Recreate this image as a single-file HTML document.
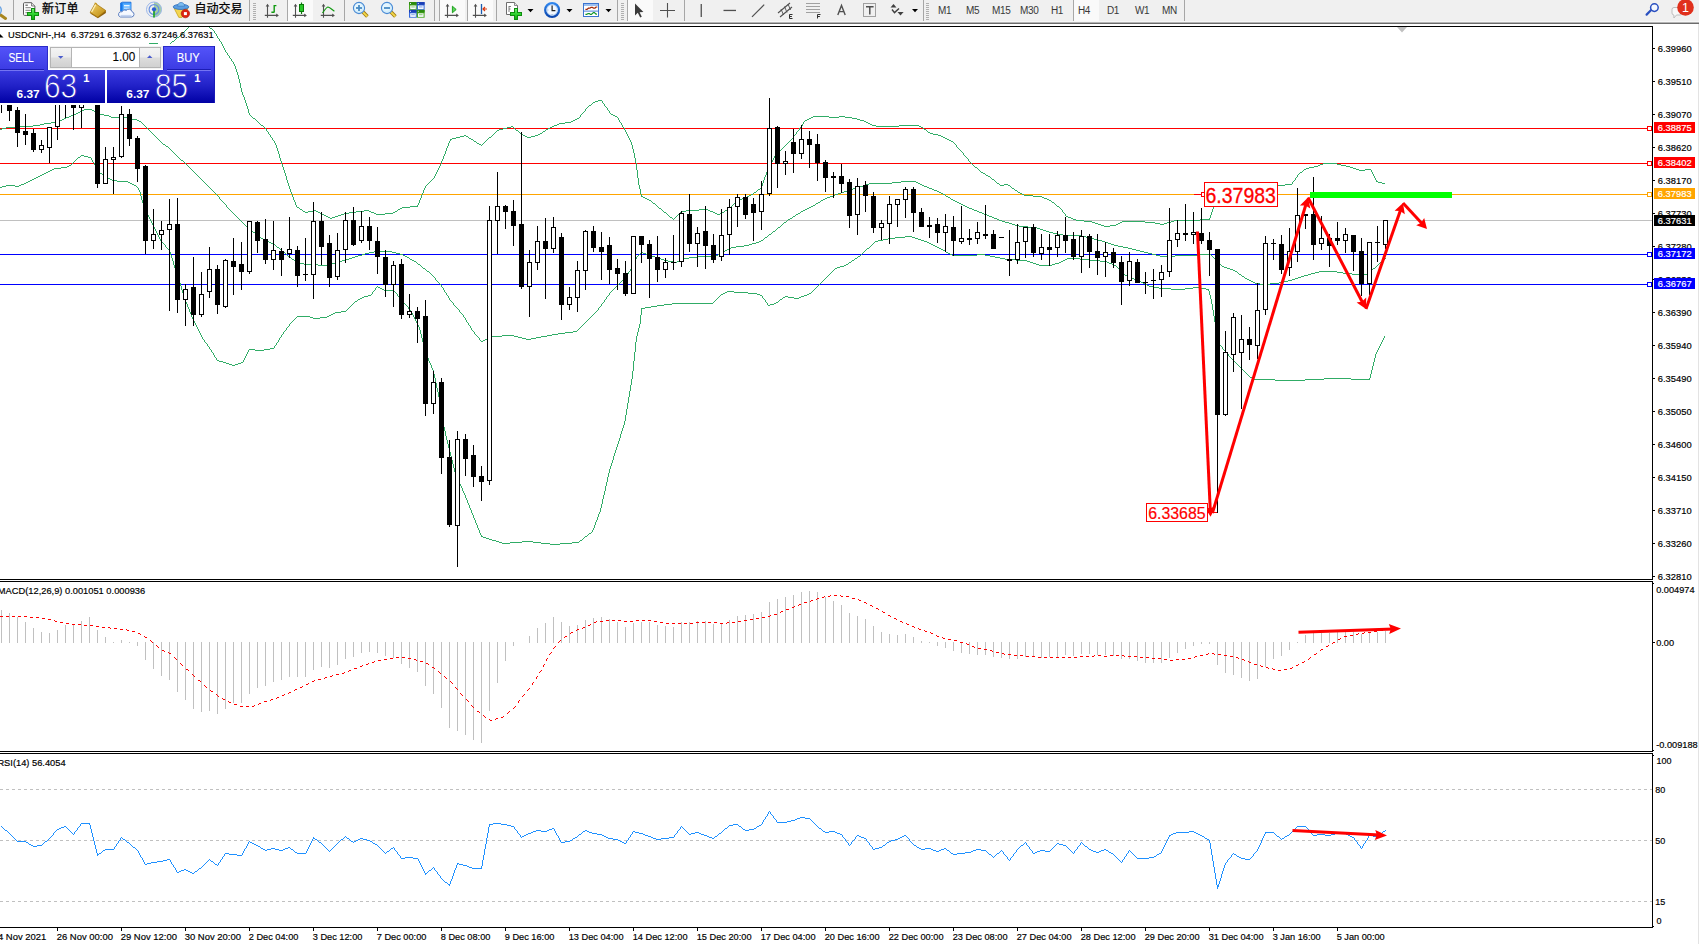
<!DOCTYPE html>
<html><head><meta charset="utf-8"><title>USDCNH-,H4</title>
<style>
html,body{margin:0;padding:0;background:#fff;}
body{width:1699px;height:944px;overflow:hidden;position:relative;font-family:"Liberation Sans","Noto Sans CJK SC",sans-serif;}
#tb{position:absolute;left:0;top:0;width:1699px;height:24px;background:#f0f0f0;}
#tb .l1{position:absolute;left:0;top:21px;width:100%;height:1px;background:#f7f7f7}
#tb .l2{position:absolute;left:0;top:22px;width:100%;height:1px;background:#b4b4b4}
#tb .l3{position:absolute;left:0;top:23px;width:100%;height:1px;background:#6c6c6c}
#tb .t{position:absolute;top:2px;font-size:12px;line-height:14px;color:#000;white-space:nowrap;-webkit-text-stroke:0.25px #000}
#tb .p{position:absolute;top:4.5px;font-size:10px;line-height:12px;color:#383838;white-space:nowrap;letter-spacing:-0.35px}
</style></head>
<body>
<div id="tb"><div class="l1"></div><div class="l2"></div><div class="l3"></div>
<svg width="1699" height="24" viewBox="0 0 1699 24" style="position:absolute;left:0;top:0">
<defs><linearGradient id="gGold" x1="0" y1="0" x2="1" y2="1"><stop offset="0" stop-color="#f6d46a"/><stop offset="1" stop-color="#b8860b"/></linearGradient><linearGradient id="gBlue" x1="0" y1="0" x2="0" y2="1"><stop offset="0" stop-color="#8ec4f0"/><stop offset="1" stop-color="#2a6cc8"/></linearGradient><linearGradient id="gGreen" x1="0" y1="0" x2="0" y2="1"><stop offset="0" stop-color="#7af07a"/><stop offset="0.5" stop-color="#2ed22e"/><stop offset="1" stop-color="#12a812"/></linearGradient><radialGradient id="gLens" cx="0.4" cy="0.35" r="0.7"><stop offset="0" stop-color="#ffffff"/><stop offset="1" stop-color="#a8d4f4"/></radialGradient><linearGradient id="gRing" x1="0" y1="0" x2="0" y2="1"><stop offset="0" stop-color="#2f86ee"/><stop offset="1" stop-color="#0a46ae"/></linearGradient></defs>
<line x1="-1" y1="14" x2="5.5" y2="18.5" stroke="#a8861e" stroke-width="3" stroke-linecap="round"/>
<circle cx="-3.6" cy="10.3" r="5" fill="url(#gLens)" stroke="#6aa2e2" stroke-width="1.2"/>
<rect x="13" y="0" width="1" height="20" fill="#a6a6a6"/>
<path d="M24.5,2.7 H31.6 L34.9,6 V14.4 Q34.9,15.4 33.9,15.4 H24.5 Q23.5,15.4 23.5,14.4 V3.7 Q23.5,2.7 24.5,2.7 Z" fill="#fff" stroke="#5a5a5a" stroke-width="1"/>
<path d="M31.6,2.7 V6 H34.9" fill="#e8e8e8" stroke="#5a5a5a" stroke-width="0.8"/>
<rect x="25.4" y="4.6" width="2.4" height="1.2" fill="#606060"/><rect x="25.4" y="7.2" width="5.4" height="1" fill="#808080"/><rect x="25.4" y="9.8" width="5.4" height="1" fill="#808080"/><rect x="25.4" y="12.2" width="3" height="1" fill="#808080"/>
<path d="M31.5,8.5 h3 v4 h4 v3 h-4 v4 h-3 v-4 h-4 v-3 h4 z" fill="url(#gGreen)" stroke="#0e8e0e" stroke-width="1" shape-rendering="crispEdges"/>
<path d="M90.2,12.4 L90.6,13.8 L97.9,18.2 L105.9,13 L105.8,10.6 Z" fill="#8e600c"/>
<path d="M95.2,3.4 L105.8,10.6 L97.7,17.2 L90.2,12.4 Z" fill="url(#gGold)" stroke="#a8780e" stroke-width="0.8"/>
<path d="M95.6,4.6 L91.6,12" stroke="#fff4c0" stroke-width="1.3" fill="none" opacity="0.9"/>
<path d="M94.6,3.2 Q96.4,2.6 97,4.4" stroke="#c8960e" stroke-width="1" fill="none"/>
<path d="M120.6,3 L122.4,2.2 H131 V11 H120.6 Z" fill="#2a8cf4" stroke="#1a6cd8" stroke-width="0.8"/>
<rect x="122.6" y="3.4" width="8.2" height="7.6" fill="#5ab0ff"/>
<rect x="124" y="5" width="5.6" height="1.4" fill="#e8f6ff"/><rect x="124" y="7.6" width="5.6" height="1.2" fill="#cfe8ff"/>
<rect x="120.8" y="3.4" width="1.6" height="7.6" fill="#1478ea"/>
<path d="M120.4,17 h11.2 a2.7,2.7 0 0 0 0.4,-5.3 a3.3,3.3 0 0 0 -5.8,-1.3 a2.7,2.7 0 0 0 -4.1,1.4 a2.7,2.7 0 0 0 -1.7,5.2 z" fill="#f6f9ff" stroke="#5e80c0" stroke-width="1"/>
<path d="M120.6,15.6 h10.8" stroke="#c4d4f0" stroke-width="1.4" fill="none"/>
<path d="M154,9.5 L154,1.9 A7.6,7.6 0 0 1 154,17.1 Z" fill="#3aa23a" opacity="0.42"/>
<g fill="none"><circle cx="154" cy="9.5" r="7.5" stroke="#9ab6ea" stroke-width="1"/><circle cx="154" cy="9.5" r="4.9" stroke="#6a92e0" stroke-width="1.2"/><path d="M154,9.5 V17.4" stroke="#22a422" stroke-width="1.7"/></g><circle cx="154" cy="9.3" r="2.1" fill="#2a5cd4"/>
<path d="M174.2,8.4 L188,8.4 L182,17.4 L178.8,17.4 Z" fill="#f4d650" stroke="#c8a21e" stroke-width="0.8"/>
<ellipse cx="181" cy="6.9" rx="7.8" ry="2.6" fill="#5a9ee2" stroke="#2e6cb8" stroke-width="0.8"/>
<path d="M177.6,6.2 C177.8,1.2 184.4,1.2 184.6,6.2 Z" fill="#7cbcf0" stroke="#3a78c0" stroke-width="0.7"/>
<circle cx="185.4" cy="13.6" r="4.2" fill="#dc2410" stroke="#a81408" stroke-width="0.6"/>
<rect x="183.9" y="12.1" width="3" height="3" fill="#fff"/>
<rect x="249" y="0" width="1" height="21" fill="#a6a6a6"/>
<rect x="253" y="3" width="3" height="1" fill="#b0b0b0"/>
<rect x="253" y="5" width="3" height="1" fill="#b0b0b0"/>
<rect x="253" y="7" width="3" height="1" fill="#b0b0b0"/>
<rect x="253" y="9" width="3" height="1" fill="#b0b0b0"/>
<rect x="253" y="11" width="3" height="1" fill="#b0b0b0"/>
<rect x="253" y="13" width="3" height="1" fill="#b0b0b0"/>
<rect x="253" y="15" width="3" height="1" fill="#b0b0b0"/>
<rect x="253" y="17" width="3" height="1" fill="#b0b0b0"/>
<rect x="253" y="19" width="3" height="1" fill="#b0b0b0"/>
<g stroke="#505050" stroke-width="1.1" fill="none"><path d="M267.5,5 V17.7 M264.8,15.4 H277.6"/></g><polygon points="267.5,3.8 265.7,6.6 269.3,6.6" fill="#505050"/><polygon points="278.9,15.4 276.2,13.6 276.2,17.2" fill="#505050"/>
<path d="M274.2,5 V12.6 M274.2,5.6 H276.4 M271.4,12.2 H274.2" stroke="#109a10" stroke-width="1.4" fill="none"/>
<rect x="287" y="0" width="26" height="21" fill="#fafafa"/>
<rect x="287" y="0" width="1" height="21" fill="#a8a8a8"/>
<g stroke="#505050" stroke-width="1.1" fill="none"><path d="M295.5,5 V17.7 M292.8,15.4 H305.6"/></g><polygon points="295.5,3.8 293.7,6.6 297.3,6.6" fill="#505050"/><polygon points="306.9,15.4 304.2,13.6 304.2,17.2" fill="#505050"/>
<path d="M301.5,2.5 V14" stroke="#0a7a0a" stroke-width="1.2"/><rect x="299.5" y="4.5" width="4" height="7" fill="#28c828" stroke="#0a7a0a" stroke-width="1"/>
<g stroke="#505050" stroke-width="1.1" fill="none"><path d="M323.5,5 V17.7 M320.8,15.4 H333.6"/></g><polygon points="323.5,3.8 321.7,6.6 325.3,6.6" fill="#505050"/><polygon points="334.9,15.4 332.2,13.6 332.2,17.2" fill="#505050"/>
<path d="M322.5,13 C325,9.4 326.6,7 328,7 C330,7.4 332,9.6 334.4,11.2" stroke="#109a10" stroke-width="1.2" fill="none"/>
<rect x="344" y="0" width="1" height="21" fill="#a6a6a6"/>
<line x1="362.8" y1="11.8" x2="367.4" y2="16.6" stroke="#a07c14" stroke-width="3.6" stroke-linecap="butt"/>
<line x1="362.8" y1="11.8" x2="367.2" y2="16.4" stroke="#f4d84a" stroke-width="1.9" stroke-linecap="butt"/>
<circle cx="359" cy="8" r="5.6" fill="#d4eefc" stroke="#4a8ad4" stroke-width="1.1"/>
<circle cx="358.4" cy="7.2" r="3.6" fill="#e8f7ff" opacity="0.8"/>
<rect x="356" y="7.1" width="6" height="1.8" fill="#4a8cc4"/>
<rect x="358.1" y="5" width="1.8" height="6" fill="#4a8cc4"/>
<line x1="390.8" y1="11.8" x2="395.4" y2="16.6" stroke="#a07c14" stroke-width="3.6" stroke-linecap="butt"/>
<line x1="390.8" y1="11.8" x2="395.2" y2="16.4" stroke="#f4d84a" stroke-width="1.9" stroke-linecap="butt"/>
<circle cx="387" cy="8" r="5.6" fill="#d4eefc" stroke="#4a8ad4" stroke-width="1.1"/>
<circle cx="386.4" cy="7.2" r="3.6" fill="#e8f7ff" opacity="0.8"/>
<rect x="384" y="7.1" width="6" height="1.8" fill="#4a8cc4"/>
<rect x="409" y="2.1" width="7.8" height="7.8" fill="#4aa822"/>
<rect x="409" y="2.1" width="7.8" height="2.6" fill="#2a8a0c"/>
<rect x="410" y="3.0" width="1" height="1" fill="#dfe8ff"/>
<rect x="410.2" y="5.5" width="5.6" height="3.6" fill="#f8fbff"/>
<rect x="411.2" y="6.5" width="3.6" height="0.9" fill="#4aa822" opacity="0.7"/>
<rect x="416.8" y="2.1" width="7.8" height="7.8" fill="#3468dc"/>
<rect x="416.8" y="2.1" width="7.8" height="2.6" fill="#1a3eb4"/>
<rect x="417.8" y="3.0" width="1" height="1" fill="#dfe8ff"/>
<rect x="418.0" y="5.5" width="5.6" height="3.6" fill="#f8fbff"/>
<rect x="419.0" y="6.5" width="3.6" height="0.9" fill="#3468dc" opacity="0.7"/>
<rect x="409" y="9.9" width="7.8" height="7.8" fill="#3468dc"/>
<rect x="409" y="9.9" width="7.8" height="2.6" fill="#1a3eb4"/>
<rect x="410" y="10.8" width="1" height="1" fill="#dfe8ff"/>
<rect x="410.2" y="13.3" width="5.6" height="3.6" fill="#f8fbff"/>
<rect x="411.2" y="14.3" width="3.6" height="0.9" fill="#3468dc" opacity="0.7"/>
<rect x="416.8" y="9.9" width="7.8" height="7.8" fill="#4aa822"/>
<rect x="416.8" y="9.9" width="7.8" height="2.6" fill="#2a8a0c"/>
<rect x="417.8" y="10.8" width="1" height="1" fill="#dfe8ff"/>
<rect x="418.0" y="13.3" width="5.6" height="3.6" fill="#f8fbff"/>
<rect x="419.0" y="14.3" width="3.6" height="0.9" fill="#4aa822" opacity="0.7"/>
<rect x="434" y="0" width="1" height="21" fill="#a6a6a6"/>
<rect x="439" y="0" width="26" height="21" fill="#fafafa"/>
<rect x="439" y="0" width="1" height="21" fill="#a8a8a8"/>
<g stroke="#505050" stroke-width="1.1" fill="none"><path d="M447.5,5 V17.7 M444.8,15.4 H457.6"/></g><polygon points="447.5,3.8 445.7,6.6 449.3,6.6" fill="#505050"/><polygon points="458.9,15.4 456.2,13.6 456.2,17.2" fill="#505050"/>
<polygon points="452.4,6.2 452.4,12.8 456.2,9.5" fill="#5cd45c" stroke="#129a12" stroke-width="0.9"/>
<rect x="467" y="0" width="26" height="21" fill="#fafafa"/>
<rect x="467" y="0" width="1" height="21" fill="#a8a8a8"/>
<g stroke="#505050" stroke-width="1.1" fill="none"><path d="M475.5,5 V17.7 M472.8,15.4 H485.6"/></g><polygon points="475.5,3.8 473.7,6.6 477.3,6.6" fill="#505050"/><polygon points="486.9,15.4 484.2,13.6 484.2,17.2" fill="#505050"/>
<path d="M481.5,4 V14" stroke="#1a5cb0" stroke-width="1.3"/><path d="M487,9 H483 M485,7 L483,9 L485,11" stroke="#d83810" stroke-width="1.2" fill="none"/>
<rect x="496" y="0" width="1" height="21" fill="#a6a6a6"/>
<path d="M506.5,2.5 H514.5 L517.5,5.5 V14.5 H506.5 Z" fill="#fff" stroke="#6e6e6e" stroke-width="1"/>
<path d="M514.5,2.5 V5.5 H517.5" fill="#e8e8e8" stroke="#6e6e6e" stroke-width="0.8"/>
<path d="M509,6 V12 M509,6.5 H511 M509,9 H510.5" stroke="#707070" stroke-width="0.9" fill="none"/>
<path d="M514.5,8.5 h3 v4 h4 v3 h-4 v4 h-3 v-4 h-4 v-3 h4 z" fill="url(#gGreen)" stroke="#0e8e0e" stroke-width="1" shape-rendering="crispEdges"/>
<polygon points="527.5,9 533.5,9 530.5,12.2" fill="#000"/>
<circle cx="552.1" cy="10" r="6.9" fill="#f2f8ff" stroke="url(#gRing)" stroke-width="2.3"/>
<circle cx="552.1" cy="10" r="5.2" fill="none" stroke="#a8c8f0" stroke-width="0.7"/>
<path d="M552.1,5.4 V10.6 H555.4" stroke="#202020" stroke-width="1.2" fill="none"/>
<path d="M552.1,14.2 v0.8 M547.6,10 h0.8" stroke="#7090c0" stroke-width="0.8"/>
<polygon points="566.5,9 572.5,9 569.5,12.2" fill="#000"/>
<rect x="583.5" y="3.5" width="15" height="13" fill="#fff" stroke="#3a74d0" stroke-width="1"/>
<rect x="584" y="4" width="14" height="2" fill="#9cc0f0"/>
<rect x="584" y="10.6" width="14" height="1" fill="#4a80d8"/>
<path d="M585.4,9.4 H587 L588.4,8.2 H590 L591,7.4 H592.4 L593.6,8.2 H595 L596,7 H597.4" stroke="#a02808" stroke-width="1.2" fill="none"/>
<path d="M585.4,14.4 H586.8 L588,13.6 H589.4 L590.4,14.4 H591.4 L593.4,12.6 H594.4 L596,14.2 H597" stroke="#14962a" stroke-width="1.2" fill="none"/>
<polygon points="605.5,9 611.5,9 608.5,12.2" fill="#000"/>
<rect x="617" y="0" width="1" height="21" fill="#a6a6a6"/>
<rect x="621" y="3" width="3" height="1" fill="#b0b0b0"/>
<rect x="621" y="5" width="3" height="1" fill="#b0b0b0"/>
<rect x="621" y="7" width="3" height="1" fill="#b0b0b0"/>
<rect x="621" y="9" width="3" height="1" fill="#b0b0b0"/>
<rect x="621" y="11" width="3" height="1" fill="#b0b0b0"/>
<rect x="621" y="13" width="3" height="1" fill="#b0b0b0"/>
<rect x="621" y="15" width="3" height="1" fill="#b0b0b0"/>
<rect x="621" y="17" width="3" height="1" fill="#b0b0b0"/>
<rect x="621" y="19" width="3" height="1" fill="#b0b0b0"/>
<rect x="627" y="0" width="26" height="21" fill="#fafafa"/>
<rect x="627" y="0" width="1" height="21" fill="#a8a8a8"/>
<path d="M635,3.5 V15.5 L637.8,12.8 L640.2,17.6 L641.8,16.8 L639.6,12.2 L643.4,12 Z" fill="#3c3c3c"/>
<path d="M667.5,3 V17.5 M660,10.5 H675" stroke="#505050" stroke-width="1.1" fill="none"/>
<rect x="684" y="0" width="1" height="21" fill="#a6a6a6"/>
<rect x="700.6" y="4" width="1.3" height="13" fill="#505050"/>
<rect x="723.5" y="9.8" width="12.5" height="1.3" fill="#505050"/>
<path d="M752,16.8 L764.2,4.6" stroke="#505050" stroke-width="1.2"/>
<path d="M778,13 L790,3 M780,17 L792,7" stroke="#505050" stroke-width="1.1" fill="none"/>
<path d="M781,9 L783.5,15 M784.5,6.5 L787,12.5 M788,4 L790.5,10" stroke="#505050" stroke-width="0.9" fill="none"/>
<path d="M789.5,14.5 h3 m-3,0 v4 h3 m-3,-2 h2.4" stroke="#303030" stroke-width="1" fill="none"/>
<line x1="806.5" y1="3.5" x2="820" y2="3.5" stroke="#505050" stroke-width="1" stroke-dasharray="1,1"/>
<line x1="806.5" y1="6.5" x2="820" y2="6.5" stroke="#505050" stroke-width="1" stroke-dasharray="1,1"/>
<line x1="806.5" y1="9.5" x2="820" y2="9.5" stroke="#505050" stroke-width="1" stroke-dasharray="1,1"/>
<line x1="806.5" y1="12.5" x2="820" y2="12.5" stroke="#505050" stroke-width="1" stroke-dasharray="1,1"/>
<path d="M817.5,18.5 v-4 h3 m-3,2 h2.4" stroke="#303030" stroke-width="1" fill="none"/>
<path d="M837.8,15 L841.5,5.5 L845.2,15 M839.3,11.6 H843.7" stroke="#505050" stroke-width="1.4" fill="none"/>
<rect x="863.5" y="3.5" width="12" height="13" fill="none" stroke="#505050" stroke-width="1" stroke-dasharray="1,1"/>
<path d="M866,6.8 H873.6 M869.8,6.8 V14.5" stroke="#505050" stroke-width="1.5" fill="none"/>
<polygon points="893.5,4 896.5,7.5 890.5,7.5" fill="#404040"/>
<polygon points="900.5,15.5 903.6,12 897.5,12" fill="#404040"/>
<path d="M892,9.5 L894.5,12.6 L899,8.4" stroke="#404040" stroke-width="1.4" fill="none"/>
<polygon points="896.5,11 899.5,14.5 902.5,11" fill="#404040" opacity="0"/>
<polygon points="912,9 918,9 915,12.2" fill="#000"/>
<rect x="923" y="0" width="1" height="21" fill="#a6a6a6"/>
<rect x="926" y="3" width="3" height="1" fill="#b0b0b0"/>
<rect x="926" y="5" width="3" height="1" fill="#b0b0b0"/>
<rect x="926" y="7" width="3" height="1" fill="#b0b0b0"/>
<rect x="926" y="9" width="3" height="1" fill="#b0b0b0"/>
<rect x="926" y="11" width="3" height="1" fill="#b0b0b0"/>
<rect x="926" y="13" width="3" height="1" fill="#b0b0b0"/>
<rect x="926" y="15" width="3" height="1" fill="#b0b0b0"/>
<rect x="926" y="17" width="3" height="1" fill="#b0b0b0"/>
<rect x="926" y="19" width="3" height="1" fill="#b0b0b0"/>
<rect x="1073" y="0" width="26" height="21" fill="#fafafa"/>
<rect x="1073" y="0" width="1" height="21" fill="#a8a8a8"/>
<rect x="1184" y="0" width="1" height="21" fill="#a6a6a6"/>
<line x1="1646.6" y1="14.6" x2="1651.4" y2="9.8" stroke="#2a50c0" stroke-width="2.2" stroke-linecap="round"/>
<circle cx="1654.4" cy="7.6" r="3.8" fill="#f4f8ff" stroke="#2a50c0" stroke-width="1.5"/>
<path d="M1672,9.5 a2,2 0 0 1 2,-2 h6 a2,2 0 0 1 2,2 v3.5 a2,2 0 0 1 -2,2 h-3.5 l-2.6,3 v-3 a2,2 0 0 1 -1.9,-2 z" fill="#f8f8f8" stroke="#b8b8b8" stroke-width="0.9"/>
<circle cx="1685.5" cy="7.4" r="8.3" fill="#e0301c"/>
<text x="1685.5" y="12" text-anchor="middle" font-family="Liberation Sans, sans-serif" font-size="12.5" fill="#fff">1</text>
</svg>
<span class="t" style="left:42px;letter-spacing:0.2px">新订单</span>
<span class="t" style="left:194.5px">自动交易</span>
<span class="p" style="left:938px">M1</span><span class="p" style="left:966px">M5</span><span class="p" style="left:992px">M15</span><span class="p" style="left:1020px">M30</span><span class="p" style="left:1051px">H1</span><span class="p" style="left:1078px">H4</span><span class="p" style="left:1107px">D1</span><span class="p" style="left:1135px">W1</span><span class="p" style="left:1162px">MN</span>
</div>
<svg id="chart" width="1699" height="944" viewBox="0 0 1699 944" shape-rendering="crispEdges" style="position:absolute;left:0;top:0">
<defs><clipPath id="cm"><rect x="0" y="27" width="1652" height="552"/></clipPath></defs>
<rect x="0" y="26" width="1653" height="1" fill="#000"/>
<rect x="1652" y="26" width="1" height="902" fill="#000"/>
<rect x="0" y="579" width="1653" height="1" fill="#000"/>
<rect x="0" y="581" width="1653" height="1" fill="#000"/>
<rect x="0" y="751" width="1653" height="1" fill="#000"/>
<rect x="0" y="753" width="1653" height="1" fill="#000"/>
<rect x="0" y="927" width="1653" height="1" fill="#000"/>
<rect x="1652" y="580" width="1" height="1" fill="#fff"/>
<rect x="1652" y="752" width="1" height="1" fill="#fff"/>
<rect x="1698" y="24" width="1" height="920" fill="#e3e3e3"/>
<polygon points="1397,27 1407,27 1402,32.5" fill="#c0c0c0" shape-rendering="auto"/>
<rect x="0" y="220" width="1652" height="1" fill="#c0c0c0"/>
<rect x="0" y="128" width="1648" height="1" fill="#ff0000"/>
<rect x="0" y="163" width="1648" height="1" fill="#ff0000"/>
<rect x="0" y="194" width="1648" height="1" fill="#ffa500"/>
<rect x="0" y="254" width="1648" height="1" fill="#0000ff"/>
<rect x="0" y="284" width="1648" height="1" fill="#0000ff"/>
<g clip-path="url(#cm)">
<path d="M149 43.5h9" fill="none" stroke="#30ac66" stroke-width="1"/>
<path d="M1371.5 170v2M424.5 188v2M234.5 64v2M762.5 183v3M774.5 156v2M237.5 72v3M435.5 174v2M770.5 164v2M240.5 83v5M1297.5 175v2M283.5 167v3M443.5 156v3M626.5 132v2M629.5 138v2M639.5 185v4M423.5 190v3M633.5 149v4M585.5 109v2M580.5 115v2M1213.5 206v3M769.5 166v2M618.5 118v2M963.5 153v2M607.5 108v2M622.5 125v2M246.5 103v3M450.5 139v2M275.5 143v2M421.5 195v3M635.5 158v5M1211.5 212v3M1216.5 197v3M449.5 141v2M295.5 202v3M241.5 88v4M1210.5 215v3M281.5 161v3M609.5 111v2M284.5 170v3M245.5 100v3M799.5 128v2M1215.5 200v3M634.5 153v5M802.5 124v2M444.5 154v2M637.5 170v8M793.5 136v2M294.5 200v2M280.5 158v3M766.5 172v3M219.5 39v2M222.5 44v2M630.5 140v2M418.5 203v2M442.5 159v2M765.5 175v2M286.5 176v4M289.5 186v3M276.5 145v3M446.5 148v3M417.5 205v2M636.5 163v7M221.5 42v2M224.5 48v2M425.5 186v2M764.5 177v3M763.5 180v3M628.5 136v2M803.5 122v2M242.5 92v3M285.5 173v3M231.5 59v2M238.5 75v4M602.5 101v2M640.5 189v5M1373.5 174v2M619.5 120v2M233.5 62v2M439.5 166v2M1212.5 209v3M438.5 168v2M773.5 158v2M296.5 205v2M239.5 79v4M434.5 176v2M621.5 123v2M1292.5 182v2M641.5 194v3M772.5 160v2M768.5 168v2M445.5 151v3M1295.5 178v2M638.5 178v7M248.5 109v4M291.5 192v2M1214.5 203v3M420.5 198v2M277.5 148v3M968.5 159v2M1065.5 214v2M223.5 46v2M266.5 129v2M419.5 200v3M243.5 95v2M247.5 106v3M236.5 69v3M290.5 189v3M225.5 50v2M268.5 132v2M217.5 36v2M282.5 164v3M1372.5 172v2M235.5 66v3M631.5 142v3M270.5 135v2M1374.5 176v2M604.5 104v2M1209.5 218v2M272.5 138v2M279.5 154v4M625.5 130v2M796.5 132v2M632.5 145v4M422.5 193v2M288.5 183v3M292.5 194v3M278.5 151v3M767.5 170v2M227.5 53v2M448.5 143v3M244.5 97v3M287.5 180v3M447.5 146v2M229.5 56v2M761.5 186v2M293.5 197v3M214.5 31v2M1376.5 180v2M441.5 161v3M249.5 113v2M274.5 141v2M216.5 34v2M627.5 134v2M624.5 128v2M1062.5 210v2M440.5 164v2M1217.5 195v2M956.5 145v2M437.5 170v2M1375.5 178v2M436.5 172v2M771.5 162v2M433 178.5h1M991 178.5h1M258 122.5h1M565 122.5h6M620 122.5h1M866 122.5h2M269 134.5h1M493 134.5h1M521 134.5h2M538 134.5h2M795 134.5h1M933 134.5h5M230 58.5h1M974 166.5h1M1314 166.5h4M1346 166.5h4M1076 220.5h8M1174 220.5h26M170 43.5h1M1095 223.5h3M1118 223.5h2M1155 223.5h5M1164 223.5h3M649 200.5h2M738 200.5h2M1049 200.5h2M426 185.5h1M1000 185.5h4M1008 185.5h2M1273 185.5h12M260 124.5h1M557 124.5h2M870 124.5h2M303 211.5h2M308 211.5h5M316 211.5h2M356 211.5h8M369 211.5h2M395 211.5h2M663 211.5h1M681 211.5h5M710 211.5h3M724 211.5h1M252 117.5h1M579 117.5h1M617 117.5h1M811 117.5h2M829 117.5h10M845 117.5h7M273 140.5h1M473 140.5h1M486 140.5h1M790 140.5h1M949 140.5h2M300 209.5h2M398 209.5h2M661 209.5h1M699 209.5h9M727 209.5h1M1061 209.5h1M271 137.5h1M456 137.5h4M468 137.5h1M489 137.5h2M527 137.5h4M943 137.5h2M494 133.5h1M520 133.5h1M540 133.5h2M930 133.5h3M1101 225.5h3M1110 225.5h6M971 163.5h1M1323 163.5h14M251 116.5h1M615 116.5h2M813 116.5h16M839 116.5h6M263 126.5h1M511 126.5h2M552 126.5h2M801 126.5h1M876 126.5h23M919 126.5h2M181 34.5h1M479 144.5h2M482 144.5h1M786 144.5h1M955 144.5h1M1084 221.5h8M1122 221.5h23M1171 221.5h3M986 175.5h2M756 191.5h1M1017 191.5h1M1224 191.5h2M452 138.5h4M469 138.5h2M488 138.5h1M792 138.5h1M945 138.5h2M1092 222.5h3M1120 222.5h2M1145 222.5h10M1167 222.5h4M430 181.5h1M995 181.5h1M1293 181.5h1M1377 181.5h1M324 215.5h2M338 215.5h3M668 215.5h1M677 215.5h1M760 188.5h1M1012 188.5h2M1242 188.5h10M758 189.5h2M1014 189.5h1M1232 189.5h10M749 195.5h2M1024 195.5h9M978 169.5h1M1304 169.5h2M1356 169.5h3M1365 169.5h6M497 130.5h2M516 130.5h2M545 130.5h1M798 130.5h1M926 130.5h1M320 213.5h2M344 213.5h5M374 213.5h2M385 213.5h8M666 213.5h1M679 213.5h1M715 213.5h2M720 213.5h2M1064 213.5h1M302 210.5h1M313 210.5h3M364 210.5h5M397 210.5h1M662 210.5h1M686 210.5h13M708 210.5h2M725 210.5h2M477 143.5h2M483 143.5h1M787 143.5h1M954 143.5h1M460 136.5h4M466 136.5h2M491 136.5h1M525 136.5h2M531 136.5h4M941 136.5h2M305 212.5h3M318 212.5h2M349 212.5h7M371 212.5h3M393 212.5h2M664 212.5h2M680 212.5h1M713 212.5h2M722 212.5h2M1063 212.5h1M259 123.5h1M559 123.5h6M868 123.5h2M297 207.5h2M402 207.5h8M658 207.5h1M729 207.5h2M1059 207.5h1M584 111.5h1M751 194.5h2M1022 194.5h2M1218 194.5h2M642 196.5h1M747 196.5h2M1033 196.5h9M499 129.5h4M515 129.5h1M546 129.5h2M924 129.5h2M977 168.5h1M1306 168.5h3M1353 168.5h3M326 216.5h2M335 216.5h3M669 216.5h1M676 216.5h1M1066 216.5h2M322 214.5h2M341 214.5h3M376 214.5h9M667 214.5h1M678 214.5h1M717 214.5h3M979 170.5h1M1303 170.5h1M1359 170.5h6M983 173.5h2M1299 173.5h1M656 205.5h1M732 205.5h1M1056 205.5h1M410 206.5h7M657 206.5h1M731 206.5h1M1057 206.5h2M474 141.5h2M485 141.5h1M789 141.5h1M951 141.5h2M174 40.5h1M257 121.5h1M571 121.5h2M804 121.5h1M864 121.5h2M261 125.5h2M554 125.5h3M872 125.5h4M899 125.5h20M647 199.5h2M740 199.5h2M1047 199.5h2M754 192.5h2M1018 192.5h2M1222 192.5h2M431 180.5h1M994 180.5h1M1294 180.5h1M428 183.5h1M997 183.5h2M1382 183.5h3M427 184.5h1M999 184.5h1M1004 184.5h4M1285 184.5h7M586 108.5h1M980 171.5h1M1302 171.5h1M264 127.5h1M507 127.5h4M513 127.5h1M550 127.5h2M623 127.5h1M800 127.5h1M921 127.5h2M581 114.5h1M611 114.5h2M593 102.5h2M451 139.5h1M471 139.5h2M487 139.5h1M791 139.5h1M947 139.5h2M265 128.5h1M503 128.5h4M514 128.5h1M548 128.5h2M923 128.5h1M464 135.5h2M492 135.5h1M523 135.5h2M535 135.5h3M794 135.5h1M938 135.5h3M781 149.5h1M959 149.5h1M780 150.5h1M960 150.5h1M1011 187.5h1M1252 187.5h11M1104 226.5h6M495 132.5h1M519 132.5h1M542 132.5h1M928 132.5h2M753 193.5h1M1020 193.5h2M1220 193.5h2M171 42.5h1M267 131.5h1M496 131.5h1M518 131.5h1M543 131.5h2M797 131.5h1M927 131.5h1M973 165.5h1M1318 165.5h2M1341 165.5h5M476 142.5h1M484 142.5h1M788 142.5h1M953 142.5h1M778 152.5h1M962 152.5h1M328 217.5h2M332 217.5h3M670 217.5h2M675 217.5h1M1068 217.5h3M186 29.5h1M212 29.5h1M598 100.5h4M177 37.5h2M645 198.5h2M742 198.5h3M1044 198.5h3M299 208.5h1M400 208.5h2M659 208.5h2M728 208.5h1M1060 208.5h1M184 31.5h1M972 164.5h1M1320 164.5h3M1337 164.5h4M1010 186.5h1M1263 186.5h10M253 118.5h2M577 118.5h2M809 118.5h2M852 118.5h5M775 155.5h1M964 155.5h1M592 103.5h1M603 103.5h1M643 197.5h2M745 197.5h2M1042 197.5h2M330 218.5h2M672 218.5h1M674 218.5h1M1071 218.5h2M232 61.5h1M975 167.5h2M1309 167.5h5M1350 167.5h3M256 120.5h1M573 120.5h2M805 120.5h2M860 120.5h4M429 182.5h1M996 182.5h1M1378 182.5h4M187 28.5h1M210 28.5h2M779 151.5h1M961 151.5h1M966 157.5h1M651 201.5h1M736 201.5h2M1051 201.5h1M652 202.5h1M735 202.5h1M1052 202.5h2M783 147.5h1M957 147.5h1M782 148.5h1M958 148.5h1M255 119.5h1M575 119.5h2M807 119.5h2M857 119.5h3M185 30.5h1M213 30.5h1M589 105.5h2M1098 224.5h3M1116 224.5h2M1160 224.5h4M757 190.5h1M1015 190.5h2M1226 190.5h6M182 33.5h1M215 33.5h1M673 219.5h1M1073 219.5h3M1200 219.5h9M481 145.5h1M785 145.5h1M988 176.5h2M595 101.5h3M653 203.5h2M734 203.5h1M1054 203.5h1M175 39.5h1M188 27.5h1M209 27.5h1M655 204.5h1M733 204.5h1M1055 204.5h1M582 113.5h1M610 113.5h1M981 172.5h2M1300 172.5h2M777 153.5h1M784 146.5h1M990 177.5h1M1296 177.5h1M183 32.5h1M587 107.5h1M606 107.5h1M591 104.5h1M965 156.5h1M176 38.5h1M218 38.5h1M967 158.5h1M776 154.5h1M226 52.5h1M985 174.5h1M1298 174.5h1M588 106.5h1M605 106.5h1M583 112.5h1M179 36.5h1M969 161.5h1M250 115.5h1M613 115.5h2M172 41.5h2M220 41.5h1M432 179.5h1M992 179.5h2M608 110.5h1M180 35.5h1M970 162.5h1M228 55.5h1" fill="none" stroke="#30ac66" stroke-width="1"/>
<path d="M630.5 269v2M471.5 328v2M441.5 285v2M470.5 326v2M474.5 332v2M623.5 278v2M443.5 288v2M604.5 300v2M463.5 315v2M466.5 320v2M468.5 323v2M633.5 263v2M446.5 293v2M449.5 298v2M609.5 293v2M444.5 290v2M448.5 296v2M435.5 278v2M479.5 338v2M632.5 265v2M628.5 272v2M219.5 197v2M465.5 318v2M226.5 205v2M598.5 308v2M601.5 304v2M453.5 303v2M636.5 257v2M635.5 259v2M631.5 267v2M634.5 261v2M606.5 297v2M459.5 310v2M588 319.5h1M166 146.5h2M439 283.5h1M619 283.5h1M1255 283.5h5M1270 283.5h9M230 210.5h1M803 210.5h2M974 210.5h3M273 244.5h2M749 244.5h3M1111 244.5h3M811 206.5h2M965 206.5h2M247 227.5h1M778 227.5h2M1028 227.5h9M204 182.5h1M892 182.5h9M916 182.5h2M283 252.5h2M369 252.5h5M392 252.5h4M641 252.5h2M722 252.5h1M1144 252.5h4M227 207.5h1M809 207.5h2M967 207.5h2M224 203.5h1M816 203.5h2M959 203.5h2M440 284.5h1M618 284.5h1M1260 284.5h10M220 199.5h1M823 199.5h2M951 199.5h2M205 183.5h1M869 183.5h23M918 183.5h2M66 117.5h3M111 117.5h17M295 261.5h1M338 261.5h4M414 261.5h2M668 261.5h5M677 261.5h2M1217 261.5h1M1382 261.5h1M257 235.5h2M768 235.5h1M1063 235.5h19M245 225.5h1M781 225.5h1M1015 225.5h4M436 280.5h1M622 280.5h1M1249 280.5h2M1288 280.5h4M427 271.5h2M629 271.5h1M1235 271.5h2M1319 271.5h18M1370 271.5h1M74 114.5h2M100 114.5h4M445 292.5h1M610 292.5h1M460 312.5h1M595 312.5h1M80 111.5h2M94 111.5h2M279 248.5h1M729 248.5h2M1128 248.5h4M487 338.5h3M522 338.5h4M531 338.5h5M20 126.5h13M145 126.5h1M78 112.5h2M96 112.5h2M421 266.5h1M1222 266.5h2M1376 266.5h1M290 257.5h1M352 257.5h3M407 257.5h2M655 257.5h3M689 257.5h8M1213 257.5h1M207 185.5h1M863 185.5h3M922 185.5h2M231 211.5h1M801 211.5h2M977 211.5h2M475 334.5h1M552 334.5h6M206 184.5h1M866 184.5h3M920 184.5h2M825 198.5h2M950 198.5h1M44 123.5h7M142 123.5h1M294 260.5h1M342 260.5h3M412 260.5h2M664 260.5h4M679 260.5h3M1216 260.5h1M1383 260.5h1M282 251.5h1M374 251.5h18M723 251.5h2M1140 251.5h4M221 200.5h1M821 200.5h2M953 200.5h2M243 223.5h1M783 223.5h1M1009 223.5h3M218 196.5h1M830 196.5h3M946 196.5h2M275 245.5h1M744 245.5h5M1114 245.5h4M477 336.5h1M492 336.5h10M514 336.5h4M541 336.5h6M287 255.5h1M358 255.5h4M403 255.5h2M638 255.5h1M649 255.5h3M716 255.5h2M1156 255.5h4M1175 255.5h24M1211 255.5h1M318 265.5h10M420 265.5h1M1221 265.5h1M1377 265.5h1M478 337.5h1M490 337.5h2M518 337.5h4M536 337.5h5M256 234.5h1M769 234.5h2M1058 234.5h5M288 256.5h2M355 256.5h3M405 256.5h2M637 256.5h1M652 256.5h3M697 256.5h19M1160 256.5h15M1212 256.5h1M240 220.5h1M787 220.5h1M999 220.5h3M59 120.5h3M137 120.5h2M472 330.5h1M577 330.5h1M558 333.5h7M269 242.5h2M756 242.5h3M1105 242.5h3M51 122.5h6M141 122.5h1M169 148.5h1M57 121.5h2M139 121.5h2M296 262.5h2M335 262.5h3M416 262.5h1M673 262.5h4M1218 262.5h1M1380 262.5h2M213 191.5h1M844 191.5h3M937 191.5h2M210 188.5h1M853 188.5h3M929 188.5h3M2 128.5h4M147 128.5h1M246 226.5h1M780 226.5h1M1019 226.5h9M473 331.5h1M573 331.5h4M84 109.5h8M431 274.5h1M627 274.5h1M1239 274.5h2M1308 274.5h3M1352 274.5h15M485 339.5h2M526 339.5h5M304 264.5h14M328 264.5h3M418 264.5h2M1220 264.5h1M1378 264.5h1M175 154.5h1M6 127.5h14M146 127.5h1M291 258.5h1M349 258.5h3M409 258.5h1M658 258.5h3M684 258.5h5M1214 258.5h1M1385 258.5h1M285 253.5h1M365 253.5h4M396 253.5h4M640 253.5h1M643 253.5h3M720 253.5h2M1148 253.5h4M163 144.5h2M176 155.5h1M251 230.5h1M775 230.5h1M1043 230.5h3M430 273.5h1M1238 273.5h1M1311 273.5h4M1343 273.5h9M1367 273.5h1M260 237.5h1M765 237.5h2M1086 237.5h4M234 214.5h1M796 214.5h2M984 214.5h3M223 202.5h1M818 202.5h2M957 202.5h2M423 268.5h2M1227 268.5h3M1373 268.5h2M236 216.5h1M793 216.5h2M989 216.5h3M82 110.5h2M92 110.5h2M255 233.5h1M771 233.5h1M1053 233.5h5M181 160.5h2M265 240.5h2M761 240.5h2M1098 240.5h4M476 335.5h1M502 335.5h12M547 335.5h5M183 161.5h1M215 193.5h1M838 193.5h3M941 193.5h2M237 217.5h1M792 217.5h1M992 217.5h2M216 194.5h1M835 194.5h3M943 194.5h2M253 232.5h2M772 232.5h1M1049 232.5h4M580 327.5h1M235 215.5h1M795 215.5h1M987 215.5h2M238 218.5h1M790 218.5h2M994 218.5h3M69 116.5h2M109 116.5h2M217 195.5h1M833 195.5h2M945 195.5h1M277 247.5h2M731 247.5h5M1123 247.5h5M611 291.5h1M239 219.5h1M788 219.5h2M997 219.5h2M587 320.5h1M177 156.5h1M203 181.5h1M901 181.5h15M286 254.5h1M362 254.5h3M400 254.5h3M639 254.5h1M646 254.5h3M718 254.5h2M1152 254.5h4M1199 254.5h12M298 263.5h6M331 263.5h4M417 263.5h1M1219 263.5h1M1379 263.5h1M178 157.5h1M214 192.5h1M841 192.5h3M939 192.5h2M456 307.5h1M599 307.5h1M447 295.5h1M608 295.5h1M461 313.5h1M594 313.5h1M426 270.5h1M1233 270.5h2M1371 270.5h1M458 309.5h1M292 259.5h2M345 259.5h4M410 259.5h2M661 259.5h3M682 259.5h2M1215 259.5h1M1384 259.5h1M250 229.5h1M776 229.5h1M1040 229.5h3M437 281.5h1M621 281.5h1M1251 281.5h2M1283 281.5h5M565 332.5h8M76 113.5h2M98 113.5h2M241 221.5h1M786 221.5h1M1002 221.5h3M276 246.5h1M736 246.5h8M1118 246.5h5M191 169.5h1M271 243.5h2M752 243.5h4M1108 243.5h3M62 119.5h2M131 119.5h6M429 272.5h1M1237 272.5h1M1315 272.5h4M1337 272.5h6M1368 272.5h2M827 197.5h3M948 197.5h2M433 276.5h1M625 276.5h1M1242 276.5h2M1301 276.5h3M1245 278.5h2M1295 278.5h3M71 115.5h3M104 115.5h5M1247 279.5h2M1292 279.5h3M242 222.5h1M784 222.5h2M1005 222.5h4M462 314.5h1M593 314.5h1M252 231.5h1M773 231.5h2M1046 231.5h3M211 189.5h1M850 189.5h3M932 189.5h2M248 228.5h2M777 228.5h1M1037 228.5h3M261 238.5h2M764 238.5h1M1090 238.5h4M212 190.5h1M847 190.5h3M934 190.5h3M40 124.5h4M143 124.5h1M480 340.5h1M483 340.5h2M33 125.5h7M144 125.5h1M174 153.5h1M228 208.5h1M807 208.5h2M969 208.5h3M263 239.5h2M763 239.5h1M1094 239.5h4M222 201.5h1M820 201.5h1M955 201.5h2M464 317.5h1M590 317.5h1M813 205.5h2M963 205.5h2M187 165.5h1M188 166.5h1M280 249.5h1M727 249.5h2M1132 249.5h4M434 277.5h1M624 277.5h1M1244 277.5h1M1298 277.5h3M153 134.5h1M467 322.5h1M585 322.5h1M267 241.5h2M759 241.5h2M1102 241.5h3M455 306.5h1M600 306.5h1M616 286.5h1M425 269.5h1M1230 269.5h3M1372 269.5h1M592 315.5h1M233 213.5h1M798 213.5h2M982 213.5h2M64 118.5h2M128 118.5h3M189 167.5h1M281 250.5h1M725 250.5h2M1136 250.5h4M190 168.5h1M244 224.5h1M782 224.5h1M1012 224.5h3M0 129.5h2M148 129.5h1M422 267.5h1M1224 267.5h3M1375 267.5h1M208 186.5h1M860 186.5h3M924 186.5h3M196 174.5h1M225 204.5h1M815 204.5h1M961 204.5h2M579 328.5h1M605 299.5h1M232 212.5h1M800 212.5h1M979 212.5h3M198 176.5h1M586 321.5h1M209 187.5h1M856 187.5h4M927 187.5h2M149 130.5h1M150 131.5h1M584 323.5h1M259 236.5h1M767 236.5h1M1082 236.5h4M432 275.5h1M626 275.5h1M1241 275.5h1M1304 275.5h4M442 287.5h1M615 287.5h1M185 163.5h1M481 341.5h2M186 164.5h1M438 282.5h1M620 282.5h1M1253 282.5h2M1279 282.5h4M151 132.5h1M192 170.5h1M152 133.5h1M229 209.5h1M805 209.5h2M972 209.5h2M158 139.5h1M617 285.5h1M578 329.5h1M614 288.5h1M194 172.5h1M165 145.5h1M195 173.5h1M597 310.5h1M452 302.5h1M603 302.5h1M160 141.5h1M201 179.5h1M197 175.5h1M450 300.5h1M451 301.5h1M591 316.5h1M154 135.5h1M155 136.5h1M602 303.5h1M613 289.5h1M589 318.5h1M596 311.5h1M156 137.5h1M157 138.5h1M168 147.5h1M193 171.5h1M454 305.5h1M469 325.5h1M582 325.5h1M199 177.5h1M200 178.5h1M583 324.5h1M457 308.5h1M202 180.5h1M159 140.5h1M170 149.5h1M171 150.5h1M161 142.5h1M172 151.5h1M184 162.5h1M162 143.5h1M173 152.5h1M179 158.5h1M180 159.5h1M581 326.5h1M612 290.5h1M607 296.5h1" fill="none" stroke="#30ac66" stroke-width="1"/>
<path d="M1211.5 299v5M196.5 325v2M636.5 336v6M181.5 286v4M592.5 530v2M423.5 342v4M631.5 379v6M635.5 342v10M1214.5 316v6M214.5 355v2M625.5 415v6M640.5 315v9M433.5 370v4M443.5 421v6M142.5 200v3M613.5 456v4M419.5 327v3M422.5 338v4M286.5 328v2M1372.5 366v4M281.5 335v2M1213.5 310v6M1379.5 346v2M464.5 493v2M626.5 409v6M449.5 448v4M397.5 294v2M187.5 304v3M1375.5 354v4M170.5 252v3M629.5 391v6M474.5 518v2M173.5 261v4M1219.5 342v3M1210.5 295v4M194.5 321v2M445.5 431v5M611.5 463v3M436.5 383v5M481.5 535v2M603.5 495v4M216.5 358v2M431.5 365v3M1216.5 328v5M616.5 447v3M432.5 368v2M452.5 460v4M418.5 325v2M638.5 328v4M455.5 472v3M141.5 196v4M95.5 165v2M628.5 397v6M610.5 466v3M96.5 167v2M147.5 212v3M179.5 280v3M99.5 171v2M1212.5 304v6M462.5 488v3M641.5 308v7M182.5 290v3M1370.5 374v4M155.5 229v2M448.5 444v4M158.5 235v2M451.5 456v4M469.5 505v3M186.5 302v2M475.5 520v3M1374.5 358v4M1218.5 337v5M1209.5 291v4M479.5 530v3M633.5 361v10M1222.5 347v2M627.5 403v6M444.5 427v4M1382.5 340v2M204.5 340v2M632.5 371v8M619.5 438v3M1369.5 378v2M601.5 504v4M276.5 343v2M441.5 409v6M175.5 268v3M178.5 277v3M1381.5 342v2M467.5 500v3M618.5 441v3M156.5 231v2M617.5 444v3M1377.5 350v2M248.5 350v2M408.5 307v2M412.5 313v2M1217.5 333v4M375.5 288v2M202.5 337v2M762.5 296v2M184.5 296v3M634.5 352v9M639.5 324v4M188.5 307v2M595.5 522v3M446.5 436v4M439.5 397v6M428.5 358v3M615.5 450v3M414.5 317v2M411.5 311v2M442.5 415v6M594.5 525v3M183.5 293v3M607.5 477v5M189.5 309v3M169.5 250v2M476.5 523v2M193.5 319v2M637.5 332v4M427.5 355v3M139.5 190v2M245.5 356v2M420.5 330v4M457.5 477v2M149.5 217v2M1380.5 344v2M471.5 510v3M274.5 346v2M605.5 486v5M195.5 323v2M621.5 431v3M1371.5 370v4M630.5 385v6M138.5 188v2M180.5 283v3M463.5 491v2M624.5 421v4M92.5 160v2M421.5 334v4M1215.5 322v6M1373.5 362v4M598.5 514v3M447.5 440v4M602.5 499v5M279.5 338v2M157.5 233v2M430.5 363v2M413.5 315v2M244.5 358v2M416.5 321v2M434.5 374v4M597.5 517v3M609.5 469v4M440.5 403v6M450.5 452v4M1376.5 352v2M191.5 314v3M171.5 255v3M243.5 360v2M174.5 265v3M198.5 329v2M429.5 361v2M600.5 508v4M144.5 205v3M459.5 482v2M456.5 475v2M620.5 434v4M148.5 215v2M151.5 221v2M209.5 347v2M466.5 498v2M470.5 508v2M197.5 327v2M424.5 346v3M454.5 468v4M623.5 425v3M458.5 479v3M150.5 219v2M207.5 344v2M465.5 495v3M160.5 239v2M622.5 428v3M453.5 464v4M1384.5 336v2M1228.5 354v2M213.5 353v2M608.5 473v4M159.5 237v2M289.5 324v2M435.5 378v5M415.5 319v2M612.5 460v3M1383.5 338v2M172.5 258v3M190.5 312v2M176.5 271v3M438.5 392v5M1378.5 348v2M606.5 482v4M417.5 323v2M91.5 158v2M94.5 163v2M146.5 210v2M372.5 292v2M143.5 203v2M461.5 486v2M153.5 225v2M468.5 503v2M185.5 299v3M472.5 513v2M614.5 453v3M478.5 528v2M596.5 520v2M199.5 331v2M437.5 388v4M426.5 352v3M604.5 491v4M460.5 484v2M177.5 274v3M765.5 300v2M152.5 223v2M247.5 352v2M278.5 340v2M473.5 515v3M477.5 525v3M201.5 335v2M425.5 349v3M165.5 245v2M403.5 301v2M246.5 354v2M140.5 192v4M767.5 303v2M211.5 350v2M593.5 528v2M192.5 317v2M283.5 332v2M145.5 208v2M599.5 512v2M480.5 533v2M154.5 227v2M1208.5 289v2M200.5 333v2M30 180.5h2M112 180.5h5M1254 379.5h21M1305 379.5h19M1351 379.5h18M380 288.5h2M815 288.5h1M1159 288.5h12M1185 288.5h8M1200 288.5h6M210 349.5h1M249 349.5h6M264 349.5h6M1223 349.5h1M287 327.5h1M855 258.5h2M1000 258.5h5M1067 258.5h13M28 181.5h2M117 181.5h11M883 239.5h5M918 239.5h3M353 303.5h1M404 303.5h1M672 303.5h41M774 303.5h2M851 261.5h1M1027 261.5h3M1061 261.5h2M1100 261.5h7M852 260.5h2M1016 260.5h11M1063 260.5h2M1090 260.5h10M354 302.5h1M713 302.5h1M766 302.5h1M776 302.5h2M364 296.5h4M398 296.5h1M719 296.5h1M785 296.5h3M801 296.5h3M502 543.5h8M541 543.5h9M560 543.5h12M824 279.5h1M1134 279.5h2M382 289.5h2M814 289.5h1M1171 289.5h14M1206 289.5h2M40 175.5h2M104 175.5h1M846 264.5h2M1036 264.5h3M1052 264.5h3M1112 264.5h2M860 255.5h1M952 255.5h25M985 255.5h5M352 304.5h1M405 304.5h1M664 304.5h8M770 304.5h4M350 306.5h1M407 306.5h1M651 306.5h6M223 362.5h3M241 362.5h2M1235 362.5h1M819 284.5h1M1145 284.5h2M341 311.5h5M848 263.5h1M1033 263.5h3M1055 263.5h4M1109 263.5h3M52 169.5h2M97 169.5h1M219 361.5h4M1234 361.5h1M395 292.5h1M725 292.5h2M734 292.5h14M811 292.5h1M205 342.5h1M277 342.5h1M854 259.5h1M1005 259.5h11M1065 259.5h2M1080 259.5h10M331 314.5h2M69 165.5h2M837 267.5h3M1117 267.5h1M858 256.5h2M990 256.5h5M373 291.5h1M394 291.5h1M727 291.5h7M812 291.5h1M861 254.5h1M950 254.5h2M977 254.5h8M496 541.5h3M522 541.5h11M579 541.5h1M351 305.5h1M406 305.5h1M657 305.5h7M768 305.5h2M275 345.5h1M1220 345.5h1M296 317.5h1M310 317.5h3M320 317.5h7M32 179.5h2M110 179.5h2M1252 378.5h2M1324 378.5h27M368 295.5h3M720 295.5h1M760 295.5h2M804 295.5h3M297 316.5h13M327 316.5h2M212 352.5h1M1226 352.5h1M215 357.5h1M1230 357.5h1M895 237.5h10M912 237.5h3M840 266.5h4M1116 266.5h1M6 185.5h9M19 185.5h2M134 185.5h2M362 297.5h2M399 297.5h1M718 297.5h1M783 297.5h2M788 297.5h6M799 297.5h2M489 539.5h3M582 539.5h1M499 542.5h3M510 542.5h12M533 542.5h8M572 542.5h7M229 364.5h3M235 364.5h3M1237 364.5h1M48 171.5h2M164 244.5h1M872 244.5h1M931 244.5h2M360 298.5h2M400 298.5h1M717 298.5h1M763 298.5h1M782 298.5h1M794 298.5h5M357 300.5h1M402 300.5h1M715 300.5h1M779 300.5h1M167 248.5h1M867 248.5h2M939 248.5h2M1275 380.5h30M820 283.5h1M1143 283.5h2M1243 370.5h1M849 262.5h2M1030 262.5h3M1059 262.5h2M1107 262.5h2M1244 371.5h1M823 280.5h1M1136 280.5h3M217 360.5h2M1233 360.5h1M21 184.5h3M132 184.5h2M589 533.5h2M36 177.5h2M107 177.5h1M291 322.5h1M844 265.5h2M1039 265.5h13M1114 265.5h2M376 287.5h1M378 287.5h2M816 287.5h1M1153 287.5h6M1193 287.5h7M34 178.5h2M108 178.5h2M355 301.5h2M714 301.5h1M778 301.5h1M486 538.5h3M583 538.5h1M822 281.5h1M1139 281.5h2M349 307.5h1M645 307.5h6M1250 377.5h2M335 312.5h6M374 290.5h1M384 290.5h10M813 290.5h1M888 238.5h7M915 238.5h3M862 253.5h1M948 253.5h2M878 240.5h5M921 240.5h3M54 168.5h7M255 350.5h9M1224 350.5h1M226 363.5h3M238 363.5h3M1236 363.5h1M1246 373.5h1M38 176.5h2M105 176.5h2M206 343.5h1M865 250.5h1M943 250.5h2M2 186.5h4M15 186.5h4M136 186.5h1M163 243.5h1M873 243.5h1M929 243.5h2M295 318.5h1M313 318.5h7M821 282.5h1M1141 282.5h2M905 236.5h7M396 293.5h1M723 293.5h2M748 293.5h9M809 293.5h2M818 285.5h1M1147 285.5h2M482 536.5h1M585 536.5h2M346 310.5h1M410 310.5h1M483 537.5h3M584 537.5h1M358 299.5h2M401 299.5h1M716 299.5h1M764 299.5h1M780 299.5h2M825 278.5h1M1131 278.5h3M871 245.5h1M933 245.5h2M831 272.5h1M1122 272.5h1M208 346.5h1M1221 346.5h1M550 544.5h10M832 271.5h1M1121 271.5h1M1240 367.5h1M44 173.5h2M100 173.5h2M829 274.5h1M1124 274.5h1M284 331.5h1M42 174.5h2M102 174.5h2M71 164.5h1M329 315.5h2M168 249.5h1M866 249.5h1M941 249.5h2M870 246.5h1M935 246.5h2M78 157.5h2M88 157.5h3M75 160.5h1M857 257.5h1M995 257.5h5M377 286.5h1M817 286.5h1M1149 286.5h4M1242 369.5h1M50 170.5h2M98 170.5h1M46 172.5h2M0 187.5h2M137 187.5h1M1249 376.5h1M371 294.5h1M721 294.5h2M757 294.5h3M807 294.5h2M591 532.5h1M292 321.5h1M161 241.5h1M875 241.5h3M924 241.5h3M232 365.5h3M1238 365.5h1M835 268.5h2M1118 268.5h1M826 277.5h1M1129 277.5h2M280 337.5h1M72 163.5h1M80 156.5h1M84 156.5h4M828 275.5h1M1125 275.5h2M1225 351.5h1M833 270.5h1M1120 270.5h1M24 183.5h2M130 183.5h2M864 251.5h1M945 251.5h1M166 247.5h1M869 247.5h1M937 247.5h2M863 252.5h1M946 252.5h2M492 540.5h4M580 540.5h2M81 155.5h3M830 273.5h1M1123 273.5h1M26 182.5h2M128 182.5h2M270 348.5h4M1247 374.5h1M1229 356.5h1M827 276.5h1M1127 276.5h2M1227 353.5h1M587 535.5h1M61 167.5h6M77 158.5h1M67 166.5h2M162 242.5h1M874 242.5h1M927 242.5h2M348 308.5h1M642 308.5h3M347 309.5h1M409 309.5h1M1231 358.5h1M1232 359.5h1M285 330.5h1M834 269.5h1M1119 269.5h1M288 326.5h1M76 159.5h1M73 162.5h1M93 162.5h1M333 313.5h2M588 534.5h1M290 323.5h1M294 319.5h1M203 339.5h1M1239 366.5h1M282 334.5h1M74 161.5h1M293 320.5h1M1245 372.5h1M1241 368.5h1M1248 375.5h1" fill="none" stroke="#30ac66" stroke-width="1"/>
<rect x="1" y="85" width="1" height="28" fill="#000"/>
<rect x="-1" y="85" width="5" height="10" fill="#000"/>
<rect x="9" y="85" width="1" height="36" fill="#000"/>
<rect x="7" y="85" width="5" height="26" fill="#000"/>
<rect x="17" y="107" width="1" height="40" fill="#000"/>
<rect x="15" y="110" width="5" height="23" fill="#000"/>
<rect x="25" y="114" width="1" height="31" fill="#000"/>
<rect x="23" y="131" width="5" height="4" fill="#000"/>
<rect x="33" y="129" width="1" height="23" fill="#000"/>
<rect x="31" y="133" width="5" height="17" fill="#000"/>
<rect x="41" y="140" width="1" height="13" fill="#000"/>
<rect x="39" y="145" width="5" height="5" fill="#000"/>
<rect x="40" y="146" width="3" height="3" fill="#fff"/>
<rect x="49" y="127" width="1" height="36" fill="#000"/>
<rect x="47" y="127" width="5" height="21" fill="#000"/>
<rect x="48" y="128" width="3" height="19" fill="#fff"/>
<rect x="57" y="80" width="1" height="60" fill="#000"/>
<rect x="55" y="82" width="5" height="45" fill="#000"/>
<rect x="56" y="83" width="3" height="43" fill="#fff"/>
<rect x="65" y="75" width="1" height="43" fill="#000"/>
<rect x="63" y="77" width="5" height="8" fill="#000"/>
<rect x="64" y="78" width="3" height="6" fill="#fff"/>
<rect x="73" y="75" width="1" height="55" fill="#000"/>
<rect x="71" y="80" width="5" height="28" fill="#000"/>
<rect x="81" y="75" width="1" height="53" fill="#000"/>
<rect x="79" y="80" width="5" height="28" fill="#000"/>
<rect x="80" y="81" width="3" height="26" fill="#fff"/>
<rect x="89" y="75" width="1" height="13" fill="#000"/>
<rect x="87" y="77" width="5" height="6" fill="#000"/>
<rect x="97" y="75" width="1" height="113" fill="#000"/>
<rect x="95" y="77" width="5" height="107" fill="#000"/>
<rect x="105" y="147" width="1" height="37" fill="#000"/>
<rect x="103" y="159" width="5" height="25" fill="#000"/>
<rect x="104" y="160" width="3" height="23" fill="#fff"/>
<rect x="113" y="147" width="1" height="47" fill="#000"/>
<rect x="111" y="157" width="5" height="3" fill="#000"/>
<rect x="112" y="158" width="3" height="1" fill="#fff"/>
<rect x="121" y="106" width="1" height="52" fill="#000"/>
<rect x="119" y="114" width="5" height="43" fill="#000"/>
<rect x="120" y="115" width="3" height="41" fill="#fff"/>
<rect x="129" y="109" width="1" height="37" fill="#000"/>
<rect x="127" y="114" width="5" height="25" fill="#000"/>
<rect x="137" y="136" width="1" height="46" fill="#000"/>
<rect x="135" y="138" width="5" height="31" fill="#000"/>
<rect x="145" y="165" width="1" height="89" fill="#000"/>
<rect x="143" y="166" width="5" height="75" fill="#000"/>
<rect x="153" y="209" width="1" height="40" fill="#000"/>
<rect x="151" y="234" width="5" height="7" fill="#000"/>
<rect x="152" y="235" width="3" height="5" fill="#fff"/>
<rect x="161" y="221" width="1" height="29" fill="#000"/>
<rect x="159" y="230" width="5" height="5" fill="#000"/>
<rect x="160" y="231" width="3" height="3" fill="#fff"/>
<rect x="169" y="199" width="1" height="112" fill="#000"/>
<rect x="167" y="224" width="5" height="6" fill="#000"/>
<rect x="168" y="225" width="3" height="4" fill="#fff"/>
<rect x="177" y="198" width="1" height="115" fill="#000"/>
<rect x="175" y="224" width="5" height="76" fill="#000"/>
<rect x="185" y="284" width="1" height="42" fill="#000"/>
<rect x="183" y="289" width="5" height="11" fill="#000"/>
<rect x="184" y="290" width="3" height="9" fill="#fff"/>
<rect x="193" y="257" width="1" height="69" fill="#000"/>
<rect x="191" y="287" width="5" height="28" fill="#000"/>
<rect x="201" y="272" width="1" height="45" fill="#000"/>
<rect x="199" y="294" width="5" height="21" fill="#000"/>
<rect x="200" y="295" width="3" height="19" fill="#fff"/>
<rect x="209" y="247" width="1" height="51" fill="#000"/>
<rect x="207" y="269" width="5" height="23" fill="#000"/>
<rect x="208" y="270" width="3" height="21" fill="#fff"/>
<rect x="217" y="265" width="1" height="49" fill="#000"/>
<rect x="215" y="269" width="5" height="36" fill="#000"/>
<rect x="225" y="259" width="1" height="49" fill="#000"/>
<rect x="223" y="260" width="5" height="47" fill="#000"/>
<rect x="224" y="261" width="3" height="45" fill="#fff"/>
<rect x="233" y="238" width="1" height="57" fill="#000"/>
<rect x="231" y="261" width="5" height="6" fill="#000"/>
<rect x="241" y="242" width="1" height="48" fill="#000"/>
<rect x="239" y="264" width="5" height="8" fill="#000"/>
<rect x="249" y="221" width="1" height="53" fill="#000"/>
<rect x="247" y="221" width="5" height="51" fill="#000"/>
<rect x="248" y="222" width="3" height="49" fill="#fff"/>
<rect x="257" y="221" width="1" height="32" fill="#000"/>
<rect x="255" y="222" width="5" height="19" fill="#000"/>
<rect x="265" y="219" width="1" height="45" fill="#000"/>
<rect x="263" y="239" width="5" height="21" fill="#000"/>
<rect x="273" y="221" width="1" height="49" fill="#000"/>
<rect x="271" y="250" width="5" height="10" fill="#000"/>
<rect x="272" y="251" width="3" height="8" fill="#fff"/>
<rect x="281" y="248" width="1" height="28" fill="#000"/>
<rect x="279" y="251" width="5" height="9" fill="#000"/>
<rect x="289" y="217" width="1" height="41" fill="#000"/>
<rect x="287" y="249" width="5" height="5" fill="#000"/>
<rect x="288" y="250" width="3" height="3" fill="#fff"/>
<rect x="297" y="246" width="1" height="41" fill="#000"/>
<rect x="295" y="250" width="5" height="26" fill="#000"/>
<rect x="305" y="238" width="1" height="43" fill="#000"/>
<rect x="303" y="274" width="5" height="1" fill="#000"/>
<rect x="313" y="202" width="1" height="97" fill="#000"/>
<rect x="311" y="221" width="5" height="54" fill="#000"/>
<rect x="312" y="222" width="3" height="52" fill="#fff"/>
<rect x="321" y="212" width="1" height="53" fill="#000"/>
<rect x="319" y="221" width="5" height="26" fill="#000"/>
<rect x="329" y="235" width="1" height="52" fill="#000"/>
<rect x="327" y="243" width="5" height="35" fill="#000"/>
<rect x="337" y="233" width="1" height="47" fill="#000"/>
<rect x="335" y="250" width="5" height="27" fill="#000"/>
<rect x="336" y="251" width="3" height="25" fill="#fff"/>
<rect x="345" y="212" width="1" height="51" fill="#000"/>
<rect x="343" y="220" width="5" height="30" fill="#000"/>
<rect x="344" y="221" width="3" height="28" fill="#fff"/>
<rect x="353" y="207" width="1" height="39" fill="#000"/>
<rect x="351" y="220" width="5" height="25" fill="#000"/>
<rect x="361" y="211" width="1" height="32" fill="#000"/>
<rect x="359" y="226" width="5" height="15" fill="#000"/>
<rect x="360" y="227" width="3" height="13" fill="#fff"/>
<rect x="369" y="217" width="1" height="33" fill="#000"/>
<rect x="367" y="226" width="5" height="15" fill="#000"/>
<rect x="377" y="227" width="1" height="47" fill="#000"/>
<rect x="375" y="241" width="5" height="16" fill="#000"/>
<rect x="385" y="250" width="1" height="47" fill="#000"/>
<rect x="383" y="257" width="5" height="28" fill="#000"/>
<rect x="393" y="261" width="1" height="46" fill="#000"/>
<rect x="391" y="265" width="5" height="20" fill="#000"/>
<rect x="392" y="266" width="3" height="18" fill="#fff"/>
<rect x="401" y="259" width="1" height="60" fill="#000"/>
<rect x="399" y="264" width="5" height="51" fill="#000"/>
<rect x="409" y="294" width="1" height="24" fill="#000"/>
<rect x="407" y="311" width="5" height="4" fill="#000"/>
<rect x="408" y="312" width="3" height="2" fill="#fff"/>
<rect x="417" y="307" width="1" height="36" fill="#000"/>
<rect x="415" y="311" width="5" height="8" fill="#000"/>
<rect x="425" y="300" width="1" height="116" fill="#000"/>
<rect x="423" y="316" width="5" height="88" fill="#000"/>
<rect x="433" y="371" width="1" height="43" fill="#000"/>
<rect x="431" y="382" width="5" height="22" fill="#000"/>
<rect x="432" y="383" width="3" height="20" fill="#fff"/>
<rect x="441" y="378" width="1" height="96" fill="#000"/>
<rect x="439" y="382" width="5" height="76" fill="#000"/>
<rect x="449" y="440" width="1" height="87" fill="#000"/>
<rect x="447" y="457" width="5" height="68" fill="#000"/>
<rect x="457" y="431" width="1" height="136" fill="#000"/>
<rect x="455" y="439" width="5" height="87" fill="#000"/>
<rect x="456" y="440" width="3" height="85" fill="#fff"/>
<rect x="465" y="434" width="1" height="42" fill="#000"/>
<rect x="463" y="439" width="5" height="20" fill="#000"/>
<rect x="473" y="445" width="1" height="42" fill="#000"/>
<rect x="471" y="455" width="5" height="22" fill="#000"/>
<rect x="481" y="466" width="1" height="35" fill="#000"/>
<rect x="479" y="476" width="5" height="6" fill="#000"/>
<rect x="489" y="206" width="1" height="279" fill="#000"/>
<rect x="487" y="220" width="5" height="261" fill="#000"/>
<rect x="488" y="221" width="3" height="259" fill="#fff"/>
<rect x="497" y="172" width="1" height="82" fill="#000"/>
<rect x="495" y="206" width="5" height="15" fill="#000"/>
<rect x="496" y="207" width="3" height="13" fill="#fff"/>
<rect x="505" y="205" width="1" height="24" fill="#000"/>
<rect x="503" y="206" width="5" height="6" fill="#000"/>
<rect x="513" y="200" width="1" height="46" fill="#000"/>
<rect x="511" y="211" width="5" height="15" fill="#000"/>
<rect x="521" y="132" width="1" height="157" fill="#000"/>
<rect x="519" y="224" width="5" height="63" fill="#000"/>
<rect x="529" y="250" width="1" height="67" fill="#000"/>
<rect x="527" y="262" width="5" height="25" fill="#000"/>
<rect x="528" y="263" width="3" height="23" fill="#fff"/>
<rect x="537" y="226" width="1" height="44" fill="#000"/>
<rect x="535" y="241" width="5" height="22" fill="#000"/>
<rect x="536" y="242" width="3" height="20" fill="#fff"/>
<rect x="545" y="218" width="1" height="81" fill="#000"/>
<rect x="543" y="241" width="5" height="8" fill="#000"/>
<rect x="553" y="217" width="1" height="36" fill="#000"/>
<rect x="551" y="227" width="5" height="22" fill="#000"/>
<rect x="552" y="228" width="3" height="20" fill="#fff"/>
<rect x="561" y="233" width="1" height="87" fill="#000"/>
<rect x="559" y="237" width="5" height="68" fill="#000"/>
<rect x="569" y="287" width="1" height="23" fill="#000"/>
<rect x="567" y="297" width="5" height="8" fill="#000"/>
<rect x="568" y="298" width="3" height="6" fill="#fff"/>
<rect x="577" y="261" width="1" height="51" fill="#000"/>
<rect x="575" y="270" width="5" height="28" fill="#000"/>
<rect x="576" y="271" width="3" height="26" fill="#fff"/>
<rect x="585" y="230" width="1" height="60" fill="#000"/>
<rect x="583" y="231" width="5" height="40" fill="#000"/>
<rect x="584" y="232" width="3" height="38" fill="#fff"/>
<rect x="593" y="226" width="1" height="26" fill="#000"/>
<rect x="591" y="231" width="5" height="17" fill="#000"/>
<rect x="601" y="232" width="1" height="48" fill="#000"/>
<rect x="599" y="247" width="5" height="5" fill="#000"/>
<rect x="609" y="237" width="1" height="47" fill="#000"/>
<rect x="607" y="245" width="5" height="25" fill="#000"/>
<rect x="617" y="259" width="1" height="31" fill="#000"/>
<rect x="615" y="268" width="5" height="6" fill="#000"/>
<rect x="625" y="261" width="1" height="35" fill="#000"/>
<rect x="623" y="273" width="5" height="21" fill="#000"/>
<rect x="633" y="236" width="1" height="58" fill="#000"/>
<rect x="631" y="236" width="5" height="58" fill="#000"/>
<rect x="632" y="237" width="3" height="56" fill="#fff"/>
<rect x="641" y="236" width="1" height="27" fill="#000"/>
<rect x="639" y="236" width="5" height="9" fill="#000"/>
<rect x="649" y="240" width="1" height="58" fill="#000"/>
<rect x="647" y="244" width="5" height="15" fill="#000"/>
<rect x="657" y="236" width="1" height="46" fill="#000"/>
<rect x="655" y="257" width="5" height="13" fill="#000"/>
<rect x="665" y="258" width="1" height="20" fill="#000"/>
<rect x="663" y="262" width="5" height="8" fill="#000"/>
<rect x="664" y="263" width="3" height="6" fill="#fff"/>
<rect x="673" y="235" width="1" height="35" fill="#000"/>
<rect x="671" y="262" width="5" height="1" fill="#000"/>
<rect x="681" y="211" width="1" height="56" fill="#000"/>
<rect x="679" y="213" width="5" height="49" fill="#000"/>
<rect x="680" y="214" width="3" height="47" fill="#fff"/>
<rect x="689" y="194" width="1" height="58" fill="#000"/>
<rect x="687" y="214" width="5" height="30" fill="#000"/>
<rect x="697" y="227" width="1" height="40" fill="#000"/>
<rect x="695" y="233" width="5" height="11" fill="#000"/>
<rect x="696" y="234" width="3" height="9" fill="#fff"/>
<rect x="705" y="206" width="1" height="63" fill="#000"/>
<rect x="703" y="231" width="5" height="15" fill="#000"/>
<rect x="713" y="234" width="1" height="29" fill="#000"/>
<rect x="711" y="245" width="5" height="15" fill="#000"/>
<rect x="721" y="209" width="1" height="52" fill="#000"/>
<rect x="719" y="235" width="5" height="22" fill="#000"/>
<rect x="720" y="236" width="3" height="20" fill="#fff"/>
<rect x="729" y="199" width="1" height="56" fill="#000"/>
<rect x="727" y="207" width="5" height="28" fill="#000"/>
<rect x="728" y="208" width="3" height="26" fill="#fff"/>
<rect x="737" y="194" width="1" height="33" fill="#000"/>
<rect x="735" y="197" width="5" height="10" fill="#000"/>
<rect x="736" y="198" width="3" height="8" fill="#fff"/>
<rect x="745" y="194" width="1" height="25" fill="#000"/>
<rect x="743" y="197" width="5" height="18" fill="#000"/>
<rect x="753" y="198" width="1" height="43" fill="#000"/>
<rect x="751" y="204" width="5" height="9" fill="#000"/>
<rect x="761" y="181" width="1" height="49" fill="#000"/>
<rect x="759" y="194" width="5" height="18" fill="#000"/>
<rect x="760" y="195" width="3" height="16" fill="#fff"/>
<rect x="769" y="98" width="1" height="98" fill="#000"/>
<rect x="767" y="128" width="5" height="66" fill="#000"/>
<rect x="768" y="129" width="3" height="64" fill="#fff"/>
<rect x="777" y="126" width="1" height="62" fill="#000"/>
<rect x="775" y="127" width="5" height="37" fill="#000"/>
<rect x="785" y="151" width="1" height="24" fill="#000"/>
<rect x="783" y="161" width="5" height="3" fill="#000"/>
<rect x="784" y="162" width="3" height="1" fill="#fff"/>
<rect x="793" y="129" width="1" height="44" fill="#000"/>
<rect x="791" y="142" width="5" height="12" fill="#000"/>
<rect x="801" y="125" width="1" height="34" fill="#000"/>
<rect x="799" y="139" width="5" height="15" fill="#000"/>
<rect x="800" y="140" width="3" height="13" fill="#fff"/>
<rect x="809" y="131" width="1" height="37" fill="#000"/>
<rect x="807" y="139" width="5" height="6" fill="#000"/>
<rect x="817" y="134" width="1" height="47" fill="#000"/>
<rect x="815" y="144" width="5" height="19" fill="#000"/>
<rect x="825" y="160" width="1" height="32" fill="#000"/>
<rect x="823" y="162" width="5" height="16" fill="#000"/>
<rect x="833" y="172" width="1" height="26" fill="#000"/>
<rect x="831" y="176" width="5" height="2" fill="#000"/>
<rect x="841" y="164" width="1" height="29" fill="#000"/>
<rect x="839" y="176" width="5" height="8" fill="#000"/>
<rect x="849" y="179" width="1" height="49" fill="#000"/>
<rect x="847" y="182" width="5" height="34" fill="#000"/>
<rect x="857" y="178" width="1" height="57" fill="#000"/>
<rect x="855" y="186" width="5" height="29" fill="#000"/>
<rect x="856" y="187" width="3" height="27" fill="#fff"/>
<rect x="865" y="181" width="1" height="31" fill="#000"/>
<rect x="863" y="185" width="5" height="11" fill="#000"/>
<rect x="873" y="192" width="1" height="41" fill="#000"/>
<rect x="871" y="196" width="5" height="32" fill="#000"/>
<rect x="881" y="220" width="1" height="20" fill="#000"/>
<rect x="879" y="223" width="5" height="5" fill="#000"/>
<rect x="880" y="224" width="3" height="3" fill="#fff"/>
<rect x="889" y="196" width="1" height="48" fill="#000"/>
<rect x="887" y="204" width="5" height="20" fill="#000"/>
<rect x="888" y="205" width="3" height="18" fill="#fff"/>
<rect x="897" y="199" width="1" height="28" fill="#000"/>
<rect x="895" y="199" width="5" height="6" fill="#000"/>
<rect x="896" y="200" width="3" height="4" fill="#fff"/>
<rect x="905" y="187" width="1" height="31" fill="#000"/>
<rect x="903" y="189" width="5" height="11" fill="#000"/>
<rect x="904" y="190" width="3" height="9" fill="#fff"/>
<rect x="913" y="187" width="1" height="45" fill="#000"/>
<rect x="911" y="189" width="5" height="24" fill="#000"/>
<rect x="921" y="208" width="1" height="19" fill="#000"/>
<rect x="919" y="212" width="5" height="15" fill="#000"/>
<rect x="929" y="217" width="1" height="21" fill="#000"/>
<rect x="927" y="225" width="5" height="2" fill="#000"/>
<rect x="937" y="218" width="1" height="25" fill="#000"/>
<rect x="935" y="224" width="5" height="9" fill="#000"/>
<rect x="945" y="214" width="1" height="38" fill="#000"/>
<rect x="943" y="226" width="5" height="7" fill="#000"/>
<rect x="944" y="227" width="3" height="5" fill="#fff"/>
<rect x="953" y="216" width="1" height="40" fill="#000"/>
<rect x="951" y="227" width="5" height="14" fill="#000"/>
<rect x="961" y="206" width="1" height="38" fill="#000"/>
<rect x="959" y="238" width="5" height="4" fill="#000"/>
<rect x="960" y="239" width="3" height="2" fill="#fff"/>
<rect x="969" y="229" width="1" height="16" fill="#000"/>
<rect x="967" y="238" width="5" height="2" fill="#000"/>
<rect x="977" y="222" width="1" height="22" fill="#000"/>
<rect x="975" y="232" width="5" height="7" fill="#000"/>
<rect x="976" y="233" width="3" height="5" fill="#fff"/>
<rect x="985" y="205" width="1" height="34" fill="#000"/>
<rect x="983" y="234" width="5" height="2" fill="#000"/>
<rect x="993" y="230" width="1" height="19" fill="#000"/>
<rect x="991" y="234" width="5" height="15" fill="#000"/>
<rect x="999" y="237" width="5" height="1" fill="#000"/>
<rect x="1009" y="230" width="1" height="46" fill="#000"/>
<rect x="1007" y="259" width="5" height="2" fill="#000"/>
<rect x="1017" y="224" width="1" height="40" fill="#000"/>
<rect x="1015" y="242" width="5" height="18" fill="#000"/>
<rect x="1016" y="243" width="3" height="16" fill="#fff"/>
<rect x="1025" y="227" width="1" height="31" fill="#000"/>
<rect x="1023" y="227" width="5" height="15" fill="#000"/>
<rect x="1024" y="228" width="3" height="13" fill="#fff"/>
<rect x="1033" y="224" width="1" height="33" fill="#000"/>
<rect x="1031" y="227" width="5" height="26" fill="#000"/>
<rect x="1041" y="234" width="1" height="26" fill="#000"/>
<rect x="1039" y="247" width="5" height="7" fill="#000"/>
<rect x="1040" y="248" width="3" height="5" fill="#fff"/>
<rect x="1049" y="234" width="1" height="32" fill="#000"/>
<rect x="1047" y="247" width="5" height="3" fill="#000"/>
<rect x="1057" y="231" width="1" height="26" fill="#000"/>
<rect x="1055" y="235" width="5" height="13" fill="#000"/>
<rect x="1056" y="236" width="3" height="11" fill="#fff"/>
<rect x="1065" y="217" width="1" height="36" fill="#000"/>
<rect x="1063" y="235" width="5" height="6" fill="#000"/>
<rect x="1073" y="232" width="1" height="28" fill="#000"/>
<rect x="1071" y="239" width="5" height="18" fill="#000"/>
<rect x="1081" y="230" width="1" height="43" fill="#000"/>
<rect x="1079" y="236" width="5" height="21" fill="#000"/>
<rect x="1080" y="237" width="3" height="19" fill="#fff"/>
<rect x="1089" y="234" width="1" height="34" fill="#000"/>
<rect x="1087" y="236" width="5" height="16" fill="#000"/>
<rect x="1097" y="234" width="1" height="41" fill="#000"/>
<rect x="1095" y="251" width="5" height="7" fill="#000"/>
<rect x="1105" y="242" width="1" height="35" fill="#000"/>
<rect x="1103" y="252" width="5" height="5" fill="#000"/>
<rect x="1104" y="253" width="3" height="3" fill="#fff"/>
<rect x="1113" y="248" width="1" height="20" fill="#000"/>
<rect x="1111" y="252" width="5" height="11" fill="#000"/>
<rect x="1121" y="256" width="1" height="49" fill="#000"/>
<rect x="1119" y="262" width="5" height="20" fill="#000"/>
<rect x="1129" y="252" width="1" height="34" fill="#000"/>
<rect x="1127" y="261" width="5" height="20" fill="#000"/>
<rect x="1128" y="262" width="3" height="18" fill="#fff"/>
<rect x="1137" y="259" width="1" height="24" fill="#000"/>
<rect x="1135" y="262" width="5" height="21" fill="#000"/>
<rect x="1145" y="272" width="1" height="22" fill="#000"/>
<rect x="1143" y="282" width="5" height="1" fill="#000"/>
<rect x="1153" y="269" width="1" height="30" fill="#000"/>
<rect x="1151" y="280" width="5" height="1" fill="#000"/>
<rect x="1161" y="265" width="1" height="32" fill="#000"/>
<rect x="1159" y="272" width="5" height="8" fill="#000"/>
<rect x="1160" y="273" width="3" height="6" fill="#fff"/>
<rect x="1169" y="208" width="1" height="69" fill="#000"/>
<rect x="1167" y="240" width="5" height="32" fill="#000"/>
<rect x="1168" y="241" width="3" height="30" fill="#fff"/>
<rect x="1177" y="220" width="1" height="27" fill="#000"/>
<rect x="1175" y="233" width="5" height="7" fill="#000"/>
<rect x="1176" y="234" width="3" height="5" fill="#fff"/>
<rect x="1185" y="204" width="1" height="37" fill="#000"/>
<rect x="1183" y="233" width="5" height="2" fill="#000"/>
<rect x="1193" y="212" width="1" height="32" fill="#000"/>
<rect x="1191" y="232" width="5" height="3" fill="#000"/>
<rect x="1192" y="233" width="3" height="1" fill="#fff"/>
<rect x="1201" y="208" width="1" height="36" fill="#000"/>
<rect x="1199" y="233" width="5" height="8" fill="#000"/>
<rect x="1209" y="232" width="1" height="44" fill="#000"/>
<rect x="1207" y="240" width="5" height="10" fill="#000"/>
<rect x="1217" y="249" width="1" height="264" fill="#000"/>
<rect x="1215" y="249" width="5" height="166" fill="#000"/>
<rect x="1225" y="331" width="1" height="85" fill="#000"/>
<rect x="1223" y="352" width="5" height="63" fill="#000"/>
<rect x="1224" y="353" width="3" height="61" fill="#fff"/>
<rect x="1233" y="313" width="1" height="59" fill="#000"/>
<rect x="1231" y="317" width="5" height="38" fill="#000"/>
<rect x="1232" y="318" width="3" height="36" fill="#fff"/>
<rect x="1241" y="315" width="1" height="94" fill="#000"/>
<rect x="1239" y="339" width="5" height="14" fill="#000"/>
<rect x="1240" y="340" width="3" height="12" fill="#fff"/>
<rect x="1249" y="327" width="1" height="33" fill="#000"/>
<rect x="1247" y="339" width="5" height="6" fill="#000"/>
<rect x="1257" y="283" width="1" height="76" fill="#000"/>
<rect x="1255" y="310" width="5" height="36" fill="#000"/>
<rect x="1256" y="311" width="3" height="34" fill="#fff"/>
<rect x="1265" y="236" width="1" height="79" fill="#000"/>
<rect x="1263" y="243" width="5" height="67" fill="#000"/>
<rect x="1264" y="244" width="3" height="65" fill="#fff"/>
<rect x="1273" y="239" width="1" height="21" fill="#000"/>
<rect x="1271" y="243" width="5" height="1" fill="#000"/>
<rect x="1281" y="235" width="1" height="39" fill="#000"/>
<rect x="1279" y="244" width="5" height="26" fill="#000"/>
<rect x="1289" y="228" width="1" height="48" fill="#000"/>
<rect x="1287" y="251" width="5" height="17" fill="#000"/>
<rect x="1288" y="252" width="3" height="15" fill="#fff"/>
<rect x="1297" y="188" width="1" height="74" fill="#000"/>
<rect x="1295" y="215" width="5" height="37" fill="#000"/>
<rect x="1296" y="216" width="3" height="35" fill="#fff"/>
<rect x="1305" y="214" width="1" height="15" fill="#000"/>
<rect x="1303" y="214" width="5" height="2" fill="#000"/>
<rect x="1313" y="177" width="1" height="83" fill="#000"/>
<rect x="1311" y="214" width="5" height="31" fill="#000"/>
<rect x="1321" y="216" width="1" height="34" fill="#000"/>
<rect x="1319" y="238" width="5" height="6" fill="#000"/>
<rect x="1320" y="239" width="3" height="4" fill="#fff"/>
<rect x="1329" y="234" width="1" height="33" fill="#000"/>
<rect x="1327" y="238" width="5" height="8" fill="#000"/>
<rect x="1337" y="222" width="1" height="23" fill="#000"/>
<rect x="1335" y="238" width="5" height="3" fill="#000"/>
<rect x="1345" y="228" width="1" height="25" fill="#000"/>
<rect x="1343" y="234" width="5" height="7" fill="#000"/>
<rect x="1344" y="235" width="3" height="5" fill="#fff"/>
<rect x="1353" y="235" width="1" height="36" fill="#000"/>
<rect x="1351" y="235" width="5" height="17" fill="#000"/>
<rect x="1361" y="238" width="1" height="58" fill="#000"/>
<rect x="1359" y="251" width="5" height="33" fill="#000"/>
<rect x="1369" y="242" width="1" height="53" fill="#000"/>
<rect x="1367" y="242" width="5" height="42" fill="#000"/>
<rect x="1368" y="243" width="3" height="40" fill="#fff"/>
<rect x="1377" y="226" width="1" height="36" fill="#000"/>
<rect x="1375" y="242" width="5" height="1" fill="#000"/>
<rect x="1385" y="220" width="1" height="29" fill="#000"/>
<rect x="1383" y="220" width="5" height="25" fill="#000"/>
<rect x="1384" y="221" width="3" height="23" fill="#fff"/>
</g>
<rect x="1647.5" y="126.5" width="4" height="4" fill="#fff" stroke="#ff0000" stroke-width="1"/>
<rect x="1647.5" y="161.5" width="4" height="4" fill="#fff" stroke="#ff0000" stroke-width="1"/>
<rect x="1647.5" y="192.5" width="4" height="4" fill="#fff" stroke="#ffa500" stroke-width="1"/>
<rect x="1647.5" y="252.5" width="4" height="4" fill="#fff" stroke="#0000ff" stroke-width="1"/>
<rect x="1647.5" y="282.5" width="4" height="4" fill="#fff" stroke="#0000ff" stroke-width="1"/>
<rect x="1653" y="48" width="2" height="1" fill="#000"/>
<text x="1657.8" y="52" font-family="Liberation Sans, sans-serif" font-size="9.7" fill="#000" stroke="#000" stroke-width="0.18" text-anchor="start" textLength="33.80" lengthAdjust="spacingAndGlyphs" shape-rendering="auto" xml:space="preserve">6.39960</text>
<rect x="1653" y="81" width="2" height="1" fill="#000"/>
<text x="1657.8" y="85" font-family="Liberation Sans, sans-serif" font-size="9.7" fill="#000" stroke="#000" stroke-width="0.18" text-anchor="start" textLength="33.80" lengthAdjust="spacingAndGlyphs" shape-rendering="auto" xml:space="preserve">6.39510</text>
<rect x="1653" y="114" width="2" height="1" fill="#000"/>
<text x="1657.8" y="118" font-family="Liberation Sans, sans-serif" font-size="9.7" fill="#000" stroke="#000" stroke-width="0.18" text-anchor="start" textLength="33.80" lengthAdjust="spacingAndGlyphs" shape-rendering="auto" xml:space="preserve">6.39070</text>
<rect x="1653" y="147" width="2" height="1" fill="#000"/>
<text x="1657.8" y="151" font-family="Liberation Sans, sans-serif" font-size="9.7" fill="#000" stroke="#000" stroke-width="0.18" text-anchor="start" textLength="33.80" lengthAdjust="spacingAndGlyphs" shape-rendering="auto" xml:space="preserve">6.38620</text>
<rect x="1653" y="180" width="2" height="1" fill="#000"/>
<text x="1657.8" y="184" font-family="Liberation Sans, sans-serif" font-size="9.7" fill="#000" stroke="#000" stroke-width="0.18" text-anchor="start" textLength="33.80" lengthAdjust="spacingAndGlyphs" shape-rendering="auto" xml:space="preserve">6.38170</text>
<rect x="1653" y="213" width="2" height="1" fill="#000"/>
<text x="1657.8" y="217" font-family="Liberation Sans, sans-serif" font-size="9.7" fill="#000" stroke="#000" stroke-width="0.18" text-anchor="start" textLength="33.80" lengthAdjust="spacingAndGlyphs" shape-rendering="auto" xml:space="preserve">6.37730</text>
<rect x="1653" y="246" width="2" height="1" fill="#000"/>
<text x="1657.8" y="250" font-family="Liberation Sans, sans-serif" font-size="9.7" fill="#000" stroke="#000" stroke-width="0.18" text-anchor="start" textLength="33.80" lengthAdjust="spacingAndGlyphs" shape-rendering="auto" xml:space="preserve">6.37280</text>
<rect x="1653" y="279" width="2" height="1" fill="#000"/>
<text x="1657.8" y="283" font-family="Liberation Sans, sans-serif" font-size="9.7" fill="#000" stroke="#000" stroke-width="0.18" text-anchor="start" textLength="33.80" lengthAdjust="spacingAndGlyphs" shape-rendering="auto" xml:space="preserve">6.36830</text>
<rect x="1653" y="312" width="2" height="1" fill="#000"/>
<text x="1657.8" y="316" font-family="Liberation Sans, sans-serif" font-size="9.7" fill="#000" stroke="#000" stroke-width="0.18" text-anchor="start" textLength="33.80" lengthAdjust="spacingAndGlyphs" shape-rendering="auto" xml:space="preserve">6.36390</text>
<rect x="1653" y="345" width="2" height="1" fill="#000"/>
<text x="1657.8" y="349" font-family="Liberation Sans, sans-serif" font-size="9.7" fill="#000" stroke="#000" stroke-width="0.18" text-anchor="start" textLength="33.80" lengthAdjust="spacingAndGlyphs" shape-rendering="auto" xml:space="preserve">6.35940</text>
<rect x="1653" y="378" width="2" height="1" fill="#000"/>
<text x="1657.8" y="382" font-family="Liberation Sans, sans-serif" font-size="9.7" fill="#000" stroke="#000" stroke-width="0.18" text-anchor="start" textLength="33.80" lengthAdjust="spacingAndGlyphs" shape-rendering="auto" xml:space="preserve">6.35490</text>
<rect x="1653" y="411" width="2" height="1" fill="#000"/>
<text x="1657.8" y="415" font-family="Liberation Sans, sans-serif" font-size="9.7" fill="#000" stroke="#000" stroke-width="0.18" text-anchor="start" textLength="33.80" lengthAdjust="spacingAndGlyphs" shape-rendering="auto" xml:space="preserve">6.35050</text>
<rect x="1653" y="444" width="2" height="1" fill="#000"/>
<text x="1657.8" y="448" font-family="Liberation Sans, sans-serif" font-size="9.7" fill="#000" stroke="#000" stroke-width="0.18" text-anchor="start" textLength="33.80" lengthAdjust="spacingAndGlyphs" shape-rendering="auto" xml:space="preserve">6.34600</text>
<rect x="1653" y="477" width="2" height="1" fill="#000"/>
<text x="1657.8" y="481" font-family="Liberation Sans, sans-serif" font-size="9.7" fill="#000" stroke="#000" stroke-width="0.18" text-anchor="start" textLength="33.80" lengthAdjust="spacingAndGlyphs" shape-rendering="auto" xml:space="preserve">6.34150</text>
<rect x="1653" y="510" width="2" height="1" fill="#000"/>
<text x="1657.8" y="514" font-family="Liberation Sans, sans-serif" font-size="9.7" fill="#000" stroke="#000" stroke-width="0.18" text-anchor="start" textLength="33.80" lengthAdjust="spacingAndGlyphs" shape-rendering="auto" xml:space="preserve">6.33710</text>
<rect x="1653" y="543" width="2" height="1" fill="#000"/>
<text x="1657.8" y="547" font-family="Liberation Sans, sans-serif" font-size="9.7" fill="#000" stroke="#000" stroke-width="0.18" text-anchor="start" textLength="33.80" lengthAdjust="spacingAndGlyphs" shape-rendering="auto" xml:space="preserve">6.33260</text>
<rect x="1653" y="576" width="2" height="1" fill="#000"/>
<text x="1657.8" y="580" font-family="Liberation Sans, sans-serif" font-size="9.7" fill="#000" stroke="#000" stroke-width="0.18" text-anchor="start" textLength="33.80" lengthAdjust="spacingAndGlyphs" shape-rendering="auto" xml:space="preserve">6.32810</text>
<rect x="1654" y="122" width="41" height="11" fill="#ff0000"/>
<text x="1657.8" y="131" font-family="Liberation Sans, sans-serif" font-size="9.7" fill="#fff" stroke="#fff" stroke-width="0.18" text-anchor="start" textLength="33.80" lengthAdjust="spacingAndGlyphs" shape-rendering="auto" xml:space="preserve">6.38875</text>
<rect x="1654" y="157" width="41" height="11" fill="#ff0000"/>
<text x="1657.8" y="166" font-family="Liberation Sans, sans-serif" font-size="9.7" fill="#fff" stroke="#fff" stroke-width="0.18" text-anchor="start" textLength="33.80" lengthAdjust="spacingAndGlyphs" shape-rendering="auto" xml:space="preserve">6.38402</text>
<rect x="1654" y="188" width="41" height="11" fill="#ffa500"/>
<text x="1657.8" y="197" font-family="Liberation Sans, sans-serif" font-size="9.7" fill="#fff" stroke="#fff" stroke-width="0.18" text-anchor="start" textLength="33.80" lengthAdjust="spacingAndGlyphs" shape-rendering="auto" xml:space="preserve">6.37983</text>
<rect x="1654" y="215" width="41" height="11" fill="#000000"/>
<text x="1657.8" y="224" font-family="Liberation Sans, sans-serif" font-size="9.7" fill="#fff" stroke="#fff" stroke-width="0.18" text-anchor="start" textLength="33.80" lengthAdjust="spacingAndGlyphs" shape-rendering="auto" xml:space="preserve">6.37631</text>
<rect x="1654" y="248" width="41" height="11" fill="#0000ff"/>
<text x="1657.8" y="257" font-family="Liberation Sans, sans-serif" font-size="9.7" fill="#fff" stroke="#fff" stroke-width="0.18" text-anchor="start" textLength="33.80" lengthAdjust="spacingAndGlyphs" shape-rendering="auto" xml:space="preserve">6.37172</text>
<rect x="1654" y="278" width="41" height="11" fill="#0000ff"/>
<text x="1657.8" y="287" font-family="Liberation Sans, sans-serif" font-size="9.7" fill="#fff" stroke="#fff" stroke-width="0.18" text-anchor="start" textLength="33.80" lengthAdjust="spacingAndGlyphs" shape-rendering="auto" xml:space="preserve">6.36767</text>
<text x="1656.2" y="592.5999999999999" font-family="Liberation Sans, sans-serif" font-size="9.7" fill="#000" stroke="#000" stroke-width="0.18" text-anchor="start" textLength="38.37" lengthAdjust="spacingAndGlyphs" shape-rendering="auto" xml:space="preserve">0.004974</text>
<text x="1656.2" y="645.8" font-family="Liberation Sans, sans-serif" font-size="9.7" fill="#000" stroke="#000" stroke-width="0.18" text-anchor="start" textLength="17.91" lengthAdjust="spacingAndGlyphs" shape-rendering="auto" xml:space="preserve">0.00</text>
<text x="1656.2" y="748.0999999999999" font-family="Liberation Sans, sans-serif" font-size="9.7" fill="#000" stroke="#000" stroke-width="0.18" text-anchor="start" textLength="41.44" lengthAdjust="spacingAndGlyphs" shape-rendering="auto" xml:space="preserve">-0.009188</text>
<rect x="1653" y="583" width="1" height="1" fill="#000"/>
<rect x="1653" y="642" width="2" height="1" fill="#000"/>
<rect x="1653" y="750" width="1" height="1" fill="#000"/>
<text x="1656.4" y="764.0999999999999" font-family="Liberation Sans, sans-serif" font-size="9.7" fill="#000" stroke="#000" stroke-width="0.18" text-anchor="start" textLength="15.02" lengthAdjust="spacingAndGlyphs" shape-rendering="auto" xml:space="preserve">100</text>
<text x="1655.3" y="792.8" font-family="Liberation Sans, sans-serif" font-size="9.7" fill="#000" stroke="#000" stroke-width="0.18" text-anchor="start" textLength="10.01" lengthAdjust="spacingAndGlyphs" shape-rendering="auto" xml:space="preserve">80</text>
<text x="1655.3" y="843.8" font-family="Liberation Sans, sans-serif" font-size="9.7" fill="#000" stroke="#000" stroke-width="0.18" text-anchor="start" textLength="10.01" lengthAdjust="spacingAndGlyphs" shape-rendering="auto" xml:space="preserve">50</text>
<text x="1655.3" y="904.8" font-family="Liberation Sans, sans-serif" font-size="9.7" fill="#000" stroke="#000" stroke-width="0.18" text-anchor="start" textLength="10.01" lengthAdjust="spacingAndGlyphs" shape-rendering="auto" xml:space="preserve">15</text>
<text x="1656.4" y="923.8" font-family="Liberation Sans, sans-serif" font-size="9.7" fill="#000" stroke="#000" stroke-width="0.18" text-anchor="start" textLength="5.01" lengthAdjust="spacingAndGlyphs" shape-rendering="auto" xml:space="preserve">0</text>
<rect x="1653" y="755" width="1" height="1" fill="#000"/>
<rect x="1653" y="926" width="1" height="1" fill="#000"/>
<rect x="1" y="610" width="1" height="33" fill="#c0c0c0"/>
<rect x="9" y="613" width="1" height="30" fill="#c0c0c0"/>
<rect x="17" y="617" width="1" height="26" fill="#c0c0c0"/>
<rect x="25" y="622" width="1" height="21" fill="#c0c0c0"/>
<rect x="33" y="628" width="1" height="15" fill="#c0c0c0"/>
<rect x="41" y="632" width="1" height="11" fill="#c0c0c0"/>
<rect x="49" y="633" width="1" height="10" fill="#c0c0c0"/>
<rect x="57" y="630" width="1" height="13" fill="#c0c0c0"/>
<rect x="65" y="625" width="1" height="18" fill="#c0c0c0"/>
<rect x="73" y="625" width="1" height="18" fill="#c0c0c0"/>
<rect x="81" y="621" width="1" height="22" fill="#c0c0c0"/>
<rect x="89" y="617" width="1" height="26" fill="#c0c0c0"/>
<rect x="97" y="630" width="1" height="13" fill="#c0c0c0"/>
<rect x="105" y="637" width="1" height="6" fill="#c0c0c0"/>
<rect x="113" y="642" width="1" height="1" fill="#c0c0c0"/>
<rect x="121" y="640" width="1" height="3" fill="#c0c0c0"/>
<rect x="129" y="642" width="1" height="1" fill="#c0c0c0"/>
<rect x="137" y="642" width="1" height="4" fill="#c0c0c0"/>
<rect x="145" y="642" width="1" height="18" fill="#c0c0c0"/>
<rect x="153" y="642" width="1" height="27" fill="#c0c0c0"/>
<rect x="161" y="642" width="1" height="34" fill="#c0c0c0"/>
<rect x="169" y="642" width="1" height="38" fill="#c0c0c0"/>
<rect x="177" y="642" width="1" height="50" fill="#c0c0c0"/>
<rect x="185" y="642" width="1" height="58" fill="#c0c0c0"/>
<rect x="193" y="642" width="1" height="67" fill="#c0c0c0"/>
<rect x="201" y="642" width="1" height="70" fill="#c0c0c0"/>
<rect x="209" y="642" width="1" height="69" fill="#c0c0c0"/>
<rect x="217" y="642" width="1" height="72" fill="#c0c0c0"/>
<rect x="225" y="642" width="1" height="67" fill="#c0c0c0"/>
<rect x="233" y="642" width="1" height="61" fill="#c0c0c0"/>
<rect x="241" y="642" width="1" height="61" fill="#c0c0c0"/>
<rect x="249" y="642" width="1" height="52" fill="#c0c0c0"/>
<rect x="257" y="642" width="1" height="46" fill="#c0c0c0"/>
<rect x="265" y="642" width="1" height="44" fill="#c0c0c0"/>
<rect x="273" y="642" width="1" height="40" fill="#c0c0c0"/>
<rect x="281" y="642" width="1" height="38" fill="#c0c0c0"/>
<rect x="289" y="642" width="1" height="35" fill="#c0c0c0"/>
<rect x="297" y="642" width="1" height="35" fill="#c0c0c0"/>
<rect x="305" y="642" width="1" height="35" fill="#c0c0c0"/>
<rect x="313" y="642" width="1" height="28" fill="#c0c0c0"/>
<rect x="321" y="642" width="1" height="25" fill="#c0c0c0"/>
<rect x="329" y="642" width="1" height="26" fill="#c0c0c0"/>
<rect x="337" y="642" width="1" height="23" fill="#c0c0c0"/>
<rect x="345" y="642" width="1" height="17" fill="#c0c0c0"/>
<rect x="353" y="642" width="1" height="15" fill="#c0c0c0"/>
<rect x="361" y="642" width="1" height="11" fill="#c0c0c0"/>
<rect x="369" y="642" width="1" height="10" fill="#c0c0c0"/>
<rect x="377" y="642" width="1" height="11" fill="#c0c0c0"/>
<rect x="385" y="642" width="1" height="14" fill="#c0c0c0"/>
<rect x="393" y="642" width="1" height="16" fill="#c0c0c0"/>
<rect x="401" y="642" width="1" height="22" fill="#c0c0c0"/>
<rect x="409" y="642" width="1" height="26" fill="#c0c0c0"/>
<rect x="417" y="642" width="1" height="30" fill="#c0c0c0"/>
<rect x="425" y="642" width="1" height="44" fill="#c0c0c0"/>
<rect x="433" y="642" width="1" height="52" fill="#c0c0c0"/>
<rect x="441" y="642" width="1" height="66" fill="#c0c0c0"/>
<rect x="449" y="642" width="1" height="86" fill="#c0c0c0"/>
<rect x="457" y="642" width="1" height="89" fill="#c0c0c0"/>
<rect x="465" y="642" width="1" height="93" fill="#c0c0c0"/>
<rect x="473" y="642" width="1" height="98" fill="#c0c0c0"/>
<rect x="481" y="642" width="1" height="101" fill="#c0c0c0"/>
<rect x="489" y="642" width="1" height="69" fill="#c0c0c0"/>
<rect x="497" y="642" width="1" height="41" fill="#c0c0c0"/>
<rect x="505" y="642" width="1" height="19" fill="#c0c0c0"/>
<rect x="513" y="642" width="1" height="4" fill="#c0c0c0"/>
<rect x="529" y="636" width="1" height="7" fill="#c0c0c0"/>
<rect x="537" y="628" width="1" height="15" fill="#c0c0c0"/>
<rect x="545" y="623" width="1" height="20" fill="#c0c0c0"/>
<rect x="553" y="617" width="1" height="26" fill="#c0c0c0"/>
<rect x="561" y="622" width="1" height="21" fill="#c0c0c0"/>
<rect x="569" y="626" width="1" height="17" fill="#c0c0c0"/>
<rect x="577" y="625" width="1" height="18" fill="#c0c0c0"/>
<rect x="585" y="620" width="1" height="23" fill="#c0c0c0"/>
<rect x="593" y="618" width="1" height="25" fill="#c0c0c0"/>
<rect x="601" y="617" width="1" height="26" fill="#c0c0c0"/>
<rect x="609" y="619" width="1" height="24" fill="#c0c0c0"/>
<rect x="617" y="622" width="1" height="21" fill="#c0c0c0"/>
<rect x="625" y="627" width="1" height="16" fill="#c0c0c0"/>
<rect x="633" y="623" width="1" height="20" fill="#c0c0c0"/>
<rect x="641" y="622" width="1" height="21" fill="#c0c0c0"/>
<rect x="649" y="622" width="1" height="21" fill="#c0c0c0"/>
<rect x="657" y="625" width="1" height="18" fill="#c0c0c0"/>
<rect x="665" y="626" width="1" height="17" fill="#c0c0c0"/>
<rect x="673" y="627" width="1" height="16" fill="#c0c0c0"/>
<rect x="681" y="622" width="1" height="21" fill="#c0c0c0"/>
<rect x="689" y="622" width="1" height="21" fill="#c0c0c0"/>
<rect x="697" y="621" width="1" height="22" fill="#c0c0c0"/>
<rect x="705" y="621" width="1" height="22" fill="#c0c0c0"/>
<rect x="713" y="624" width="1" height="19" fill="#c0c0c0"/>
<rect x="721" y="624" width="1" height="19" fill="#c0c0c0"/>
<rect x="729" y="620" width="1" height="23" fill="#c0c0c0"/>
<rect x="737" y="616" width="1" height="27" fill="#c0c0c0"/>
<rect x="745" y="615" width="1" height="28" fill="#c0c0c0"/>
<rect x="753" y="614" width="1" height="29" fill="#c0c0c0"/>
<rect x="761" y="612" width="1" height="31" fill="#c0c0c0"/>
<rect x="769" y="602" width="1" height="41" fill="#c0c0c0"/>
<rect x="777" y="599" width="1" height="44" fill="#c0c0c0"/>
<rect x="785" y="597" width="1" height="46" fill="#c0c0c0"/>
<rect x="793" y="595" width="1" height="48" fill="#c0c0c0"/>
<rect x="801" y="592" width="1" height="51" fill="#c0c0c0"/>
<rect x="809" y="591" width="1" height="52" fill="#c0c0c0"/>
<rect x="817" y="592" width="1" height="51" fill="#c0c0c0"/>
<rect x="825" y="597" width="1" height="46" fill="#c0c0c0"/>
<rect x="833" y="601" width="1" height="42" fill="#c0c0c0"/>
<rect x="841" y="605" width="1" height="38" fill="#c0c0c0"/>
<rect x="849" y="613" width="1" height="30" fill="#c0c0c0"/>
<rect x="857" y="616" width="1" height="27" fill="#c0c0c0"/>
<rect x="865" y="619" width="1" height="24" fill="#c0c0c0"/>
<rect x="873" y="626" width="1" height="17" fill="#c0c0c0"/>
<rect x="881" y="632" width="1" height="11" fill="#c0c0c0"/>
<rect x="889" y="634" width="1" height="9" fill="#c0c0c0"/>
<rect x="897" y="635" width="1" height="8" fill="#c0c0c0"/>
<rect x="905" y="634" width="1" height="9" fill="#c0c0c0"/>
<rect x="913" y="637" width="1" height="6" fill="#c0c0c0"/>
<rect x="921" y="641" width="1" height="2" fill="#c0c0c0"/>
<rect x="929" y="642" width="1" height="1" fill="#c0c0c0"/>
<rect x="937" y="642" width="1" height="4" fill="#c0c0c0"/>
<rect x="945" y="642" width="1" height="6" fill="#c0c0c0"/>
<rect x="953" y="642" width="1" height="9" fill="#c0c0c0"/>
<rect x="961" y="642" width="1" height="11" fill="#c0c0c0"/>
<rect x="969" y="642" width="1" height="12" fill="#c0c0c0"/>
<rect x="977" y="642" width="1" height="13" fill="#c0c0c0"/>
<rect x="985" y="642" width="1" height="13" fill="#c0c0c0"/>
<rect x="993" y="642" width="1" height="15" fill="#c0c0c0"/>
<rect x="1001" y="642" width="1" height="16" fill="#c0c0c0"/>
<rect x="1009" y="642" width="1" height="17" fill="#c0c0c0"/>
<rect x="1017" y="642" width="1" height="17" fill="#c0c0c0"/>
<rect x="1025" y="642" width="1" height="15" fill="#c0c0c0"/>
<rect x="1033" y="642" width="1" height="15" fill="#c0c0c0"/>
<rect x="1041" y="642" width="1" height="16" fill="#c0c0c0"/>
<rect x="1049" y="642" width="1" height="15" fill="#c0c0c0"/>
<rect x="1057" y="642" width="1" height="15" fill="#c0c0c0"/>
<rect x="1065" y="642" width="1" height="13" fill="#c0c0c0"/>
<rect x="1073" y="642" width="1" height="14" fill="#c0c0c0"/>
<rect x="1081" y="642" width="1" height="12" fill="#c0c0c0"/>
<rect x="1089" y="642" width="1" height="12" fill="#c0c0c0"/>
<rect x="1097" y="642" width="1" height="13" fill="#c0c0c0"/>
<rect x="1105" y="642" width="1" height="13" fill="#c0c0c0"/>
<rect x="1113" y="642" width="1" height="14" fill="#c0c0c0"/>
<rect x="1121" y="642" width="1" height="17" fill="#c0c0c0"/>
<rect x="1129" y="642" width="1" height="17" fill="#c0c0c0"/>
<rect x="1137" y="642" width="1" height="19" fill="#c0c0c0"/>
<rect x="1145" y="642" width="1" height="21" fill="#c0c0c0"/>
<rect x="1153" y="642" width="1" height="21" fill="#c0c0c0"/>
<rect x="1161" y="642" width="1" height="21" fill="#c0c0c0"/>
<rect x="1169" y="642" width="1" height="16" fill="#c0c0c0"/>
<rect x="1177" y="642" width="1" height="11" fill="#c0c0c0"/>
<rect x="1185" y="642" width="1" height="7" fill="#c0c0c0"/>
<rect x="1193" y="642" width="1" height="4" fill="#c0c0c0"/>
<rect x="1201" y="642" width="1" height="2" fill="#c0c0c0"/>
<rect x="1209" y="642" width="1" height="2" fill="#c0c0c0"/>
<rect x="1217" y="642" width="1" height="23" fill="#c0c0c0"/>
<rect x="1225" y="642" width="1" height="31" fill="#c0c0c0"/>
<rect x="1233" y="642" width="1" height="33" fill="#c0c0c0"/>
<rect x="1241" y="642" width="1" height="36" fill="#c0c0c0"/>
<rect x="1249" y="642" width="1" height="39" fill="#c0c0c0"/>
<rect x="1257" y="642" width="1" height="37" fill="#c0c0c0"/>
<rect x="1265" y="642" width="1" height="25" fill="#c0c0c0"/>
<rect x="1273" y="642" width="1" height="17" fill="#c0c0c0"/>
<rect x="1281" y="642" width="1" height="14" fill="#c0c0c0"/>
<rect x="1289" y="642" width="1" height="8" fill="#c0c0c0"/>
<rect x="1297" y="642" width="1" height="1" fill="#c0c0c0"/>
<rect x="1305" y="635" width="1" height="8" fill="#c0c0c0"/>
<rect x="1313" y="633" width="1" height="10" fill="#c0c0c0"/>
<rect x="1321" y="633" width="1" height="10" fill="#c0c0c0"/>
<rect x="1329" y="633" width="1" height="10" fill="#c0c0c0"/>
<rect x="1337" y="632" width="1" height="11" fill="#c0c0c0"/>
<rect x="1345" y="632" width="1" height="11" fill="#c0c0c0"/>
<rect x="1353" y="632" width="1" height="11" fill="#c0c0c0"/>
<rect x="1361" y="634" width="1" height="9" fill="#c0c0c0"/>
<rect x="1369" y="633" width="1" height="10" fill="#c0c0c0"/>
<rect x="1377" y="632" width="1" height="11" fill="#c0c0c0"/>
<rect x="1385" y="631" width="1" height="12" fill="#c0c0c0"/>
<path d="M543.5 665v2M518.5 701v2M546.5 659v2M532.5 683v2M536.5 677v2M157 646.5h1M555 646.5h1M972 646.5h2M1326 646.5h2M169 653.5h2M550 653.5h1M1002 653.5h2M1208 653.5h1M1212 653.5h2M1316 653.5h1M210 690.5h1M294 690.5h1M527 690.5h1M1014 655.5h3M1020 655.5h3M1094 655.5h1M1098 655.5h3M1110 655.5h3M1116 655.5h3M1122 655.5h2M1200 655.5h3M1224 655.5h3M186 669.5h2M1273 669.5h2M1284 669.5h3M216 694.5h1M284 694.5h1M461 694.5h1M524 694.5h1M60 622.5h3M594 622.5h2M660 622.5h3M696 622.5h3M702 622.5h3M708 622.5h3M714 622.5h3M727 622.5h2M732 622.5h3M902 622.5h1M144 636.5h1M565 636.5h2M937 636.5h2M1344 636.5h3M66 623.5h3M666 623.5h3M672 623.5h3M678 623.5h3M684 623.5h3M690 623.5h3M720 623.5h3M726 623.5h1M906 623.5h1M786 609.5h3M878 609.5h1M96 626.5h3M912 626.5h2M198 680.5h2M314 680.5h1M55 621.5h2M596 621.5h1M600 621.5h3M624 621.5h3M630 621.5h3M654 621.5h3M738 621.5h3M900 621.5h2M181 664.5h1M366 664.5h2M428 664.5h1M544 664.5h1M1254 664.5h3M1298 664.5h1M120 629.5h3M126 629.5h1M577 629.5h2M919 629.5h2M1026 656.5h3M1032 656.5h3M1080 656.5h3M1086 656.5h3M1092 656.5h2M1104 656.5h3M1124 656.5h1M1128 656.5h3M1134 656.5h3M1195 656.5h2M1230 656.5h3M0 616.5h3M6 616.5h3M12 616.5h3M18 616.5h3M24 616.5h3M768 616.5h2M890 616.5h1M451 682.5h1M533 682.5h1M138 633.5h2M570 633.5h1M931 633.5h2M1358 633.5h1M1362 633.5h2M354 668.5h3M434 668.5h1M1268 668.5h1M1272 668.5h1M1290 668.5h2M174 657.5h1M396 657.5h3M402 657.5h3M1038 657.5h3M1044 657.5h3M1050 657.5h3M1056 657.5h3M1062 657.5h3M1068 657.5h3M1074 657.5h3M1140 657.5h3M1146 657.5h3M1194 657.5h1M1236 657.5h2M1310 657.5h1M211 691.5h2M240 706.5h3M246 706.5h3M252 706.5h2M472 706.5h1M515 706.5h1M175 658.5h1M390 658.5h3M408 658.5h3M547 658.5h1M1152 658.5h3M1158 658.5h3M1188 658.5h3M1238 658.5h1M1309 658.5h1M168 652.5h1M551 652.5h1M996 652.5h3M188 670.5h1M349 670.5h2M541 670.5h1M1278 670.5h3M948 639.5h3M1338 639.5h2M824 596.5h1M828 596.5h2M841 596.5h2M846 596.5h3M817 598.5h2M852 598.5h3M378 660.5h3M416 660.5h1M1170 660.5h3M1244 660.5h1M810 601.5h1M325 677.5h2M445 677.5h1M54 620.5h1M606 620.5h3M612 620.5h3M618 620.5h3M636 620.5h3M642 620.5h3M648 620.5h3M744 620.5h3M477 711.5h2M509 711.5h1M30 617.5h3M36 617.5h3M762 617.5h3M295 689.5h2M457 689.5h1M528 689.5h1M42 618.5h3M756 618.5h3M894 618.5h2M217 695.5h1M282 695.5h2M462 695.5h1M523 695.5h1M176 659.5h1M384 659.5h3M414 659.5h2M1164 659.5h3M1176 659.5h3M1182 659.5h3M1242 659.5h2M1308 659.5h1M72 624.5h3M78 624.5h3M590 624.5h1M907 624.5h2M553 648.5h1M978 648.5h3M152 642.5h1M558 642.5h1M960 642.5h3M1333 642.5h2M489 719.5h1M495 719.5h1M102 627.5h3M108 627.5h2M583 627.5h2M914 627.5h1M822 597.5h2M485 717.5h1M501 717.5h2M781 611.5h2M882 611.5h1M799 604.5h2M200 681.5h1M312 681.5h2M450 681.5h1M48 619.5h3M750 619.5h3M896 619.5h1M866 603.5h1M162 650.5h2M990 650.5h2M1320 650.5h1M432 667.5h2M1266 667.5h2M1292 667.5h1M372 662.5h2M1249 662.5h2M1302 662.5h2M140 634.5h1M1356 634.5h2M811 600.5h2M859 600.5h2M228 701.5h1M264 701.5h3M468 701.5h1M158 647.5h1M554 647.5h1M974 647.5h1M549 654.5h1M1004 654.5h1M1008 654.5h3M1206 654.5h2M1214 654.5h1M1218 654.5h3M1314 654.5h2M259 703.5h2M182 665.5h1M362 665.5h1M1260 665.5h1M1296 665.5h2M984 649.5h3M1321 649.5h2M306 684.5h2M794 606.5h1M872 606.5h1M132 631.5h3M925 631.5h2M1374 631.5h3M360 666.5h2M1261 666.5h2M84 625.5h3M90 625.5h3M588 625.5h2M222 698.5h1M276 698.5h1M229 702.5h2M513 708.5h1M150 640.5h1M560 640.5h1M954 640.5h3M571 632.5h2M930 632.5h1M1364 632.5h1M1368 632.5h3M374 661.5h1M420 661.5h3M1248 661.5h1M1304 661.5h1M830 595.5h1M834 595.5h3M840 595.5h1M804 602.5h3M864 602.5h2M774 614.5h3M324 678.5h1M446 678.5h1M180 663.5h1M368 663.5h1M426 663.5h2M936 635.5h1M1350 635.5h3M218 696.5h1M522 696.5h1M223 699.5h2M271 699.5h2M466 699.5h1M205 686.5h1M302 686.5h1M490 720.5h2M194 676.5h1M330 676.5h2M444 676.5h1M537 676.5h1M110 628.5h1M114 628.5h3M582 628.5h1M918 628.5h1M234 704.5h3M258 704.5h1M456 688.5h1M529 688.5h1M943 638.5h2M1340 638.5h1M277 697.5h2M192 674.5h1M336 674.5h3M967 644.5h2M770 615.5h1M888 615.5h2M342 673.5h2M440 673.5h1M289 692.5h2M127 630.5h2M576 630.5h1M924 630.5h1M1380 630.5h3M254 705.5h1M471 705.5h1M966 643.5h1M1332 643.5h1M308 683.5h1M452 683.5h1M156 645.5h1M1328 645.5h1M792 607.5h2M318 679.5h3M164 651.5h1M992 651.5h1M348 671.5h1M438 671.5h1M540 671.5h1M780 612.5h1M883 612.5h2M206 687.5h1M300 687.5h2M455 687.5h1M479 712.5h1M508 712.5h1M816 599.5h1M858 599.5h1M151 641.5h1M559 641.5h1M344 672.5h1M439 672.5h1M539 672.5h1M145 637.5h2M564 637.5h1M942 637.5h1M876 608.5h2M798 605.5h1M870 605.5h2M473 707.5h1M514 707.5h1M496 718.5h2M484 716.5h1M503 716.5h1M204 685.5h1M507 713.5h1M193 675.5h1M332 675.5h1M483 715.5h1M270 700.5h1M467 700.5h1M519 700.5h1M288 693.5h1M460 693.5h1" fill="none" stroke="#ff0000" stroke-width="1"/>
<line x1="0" y1="789.5" x2="1652" y2="789.5" stroke="#c0c0c0" stroke-width="1" stroke-dasharray="3,3"/>
<line x1="0" y1="840.5" x2="1652" y2="840.5" stroke="#c0c0c0" stroke-width="1" stroke-dasharray="3,3"/>
<line x1="0" y1="901.5" x2="1652" y2="901.5" stroke="#c0c0c0" stroke-width="1" stroke-dasharray="3,3"/>
<path d="M1213.5 861v6M767.5 814v2M1363.5 844v2M1259.5 845v2M632.5 832v2M484.5 849v6M1210.5 843v6M248.5 842v2M489.5 824v3M1224.5 865v3M628.5 838v2M116.5 844v2M487.5 833v5M452.5 876v3M244.5 849v2M93.5 837v4M1168.5 837v2M456.5 865v3M483.5 855v5M1164.5 845v2M488.5 827v6M773.5 816v2M1212.5 855v6M776.5 820v2M243.5 851v2M307.5 849v2M96.5 849v4M1167.5 839v2M455.5 868v2M1209.5 840v3M144.5 862v2M1163.5 847v2M768.5 812v2M482.5 860v6M1214.5 867v6M424.5 871v2M394.5 848v2M454.5 870v3M53.5 833v2M170.5 860v2M451.5 879v2M763.5 820v2M94.5 841v4M143.5 860v2M630.5 835v2M1225.5 863v2M1032.5 851v2M90.5 825v4M626.5 841v2M176.5 870v2M1074.5 851v2M1362.5 846v2M762.5 822v2M400.5 856v2M1077.5 847v2M1357.5 842v2M434.5 868v2M677.5 831v2M560.5 840v2M1216.5 879v6M220.5 860v2M1026.5 843v2M1124.5 857v2M1360.5 846v2M485.5 844v5M1215.5 873v6M866.5 839v2M1253.5 854v2M1367.5 838v2M481.5 866v3M486.5 838v6M554.5 829v2M311.5 841v2M120.5 838v2M97.5 853v3M1217.5 885v4M457.5 863v2M1126.5 854v2M1263.5 836v2M77.5 828v2M1262.5 838v2M425.5 873v2M224.5 854v2M247.5 844v2M1162.5 849v2M1218.5 884v3M1257.5 849v2M246.5 846v2M450.5 881v3M242.5 853v2M310.5 843v2M869.5 843v2M139.5 853v2M1211.5 849v6M449.5 884v2M1221.5 874v4M419.5 861v2M1016.5 850v2M674.5 835v2M1220.5 878v3M556.5 833v2M138.5 851v2M1365.5 841v2M92.5 833v4M514.5 827v2M418.5 859v2M437.5 872v2M765.5 817v2M440.5 876v2M1007.5 857v2M1227.5 860v2M1368.5 836v2M1223.5 868v3M80.5 824v2M555.5 831v2M558.5 836v2M1010.5 858v2M1029.5 847v2M1265.5 832v2M91.5 829v4M1169.5 835v2M1165.5 843v2M306.5 851v2M453.5 873v3M842.5 835v2M845.5 839v2M1258.5 847v2M171.5 862v2M95.5 845v4M421.5 865v2M1231.5 855v2M1003.5 852v2M680.5 827v2M1166.5 841v2M1128.5 851v2M173.5 865v2M420.5 863v2M397.5 852v2M1309.5 830v2M1161.5 851v2M1122.5 860v2M872.5 847v2M142.5 858v2M89.5 823v2M770.5 812v2M175.5 868v2M313.5 837v2M1219.5 881v3M309.5 845v2M909.5 839v2M1080.5 843v2M848.5 843v2M114.5 847v2M312.5 839v2M559.5 838v2M308.5 847v2M851.5 842v2M1222.5 871v3M517.5 831v2M1261.5 840v3M520.5 835v2M1013.5 854v2M1264.5 834v2M423.5 869v2M222.5 857v2M218.5 863v2M1354.5 838v2M74.5 832v2M422.5 867v2M118.5 841v2M140.5 855v2M855.5 837v2M1260.5 843v2M33 846.5h4M115 846.5h1M132 846.5h1M258 846.5h2M324 846.5h1M334 846.5h1M378 846.5h1M871 846.5h1M882 846.5h1M916 846.5h1M1020 846.5h1M1028 846.5h1M1054 846.5h1M1066 846.5h1M1078 846.5h1M1085 846.5h2M103 850.5h2M137 850.5h1M265 850.5h2M279 850.5h4M293 850.5h1M328 850.5h1M330 850.5h1M382 850.5h1M389 850.5h1M395 850.5h1M933 850.5h3M939 850.5h2M947 850.5h2M973 850.5h3M981 850.5h5M1001 850.5h1M1031 850.5h1M1040 850.5h5M1050 850.5h1M1070 850.5h1M1075 850.5h1M1091 850.5h2M1101 850.5h3M1106 850.5h2M1129 850.5h1M167 859.5h3M209 859.5h1M221 859.5h1M1008 859.5h1M1118 859.5h1M1123 859.5h1M1228 859.5h1M1245 859.5h5M2 827.5h1M61 827.5h3M66 827.5h1M78 827.5h1M682 827.5h1M727 827.5h1M741 827.5h1M756 827.5h1M818 827.5h1M1296 827.5h1M1306 827.5h1M157 861.5h6M207 861.5h1M211 861.5h2M1120 861.5h1M135 848.5h1M245 848.5h1M261 848.5h2M271 848.5h4M285 848.5h3M290 848.5h1M326 848.5h1M332 848.5h1M380 848.5h1M391 848.5h2M875 848.5h4M919 848.5h2M925 848.5h6M944 848.5h2M1018 848.5h1M1052 848.5h1M1068 848.5h1M1088 848.5h1M1361 848.5h1M507 825.5h4M729 825.5h4M738 825.5h1M759 825.5h2M816 825.5h1M10 834.5h1M73 834.5h1M519 834.5h1M526 834.5h2M579 834.5h2M597 834.5h5M631 834.5h1M643 834.5h2M675 834.5h1M689 834.5h2M701 834.5h3M718 834.5h1M840 834.5h2M1171 834.5h2M1198 834.5h2M1275 834.5h1M1289 834.5h1M1312 834.5h1M1317 834.5h8M1331 834.5h4M1346 834.5h2M1379 834.5h2M401 858.5h4M413 858.5h5M1117 858.5h1M1137 858.5h12M1229 858.5h1M1241 858.5h4M1250 858.5h1M26 842.5h2M44 842.5h1M127 842.5h2M250 842.5h2M319 842.5h2M338 842.5h1M353 842.5h1M372 842.5h1M561 842.5h4M622 842.5h2M847 842.5h1M868 842.5h1M887 842.5h2M911 842.5h1M1025 842.5h1M1081 842.5h1M102 851.5h1M294 851.5h1M329 851.5h1M383 851.5h1M387 851.5h2M396 851.5h1M936 851.5h3M949 851.5h1M971 851.5h2M986 851.5h1M1000 851.5h1M1002 851.5h1M1037 851.5h3M1045 851.5h5M1071 851.5h1M1093 851.5h3M1099 851.5h2M1108 851.5h1M1130 851.5h1M1256 851.5h1M764 819.5h1M775 819.5h1M795 819.5h2M810 819.5h1M17 841.5h9M45 841.5h2M126 841.5h1M249 841.5h1M318 841.5h1M339 841.5h1M351 841.5h2M354 841.5h2M370 841.5h2M565 841.5h5M620 841.5h2M846 841.5h1M852 841.5h1M867 841.5h1M889 841.5h2M910 841.5h1M1356 841.5h1M9 833.5h1M72 833.5h1M518 833.5h1M528 833.5h3M581 833.5h1M592 833.5h5M639 833.5h4M676 833.5h1M688 833.5h1M691 833.5h4M699 833.5h2M719 833.5h2M837 833.5h3M1173 833.5h3M1196 833.5h2M1274 833.5h1M1290 833.5h1M1311 833.5h1M1335 833.5h11M1381 833.5h1M177 872.5h2M190 872.5h2M194 872.5h1M427 872.5h1M16 840.5h1M47 840.5h1M119 840.5h1M125 840.5h1M317 840.5h1M340 840.5h1M350 840.5h1M356 840.5h2M367 840.5h3M570 840.5h2M618 840.5h2M627 840.5h1M853 840.5h1M891 840.5h4M1355 840.5h1M1366 840.5h1M7 831.5h1M55 831.5h1M70 831.5h1M75 831.5h1M533 831.5h3M541 831.5h6M583 831.5h2M587 831.5h2M633 831.5h2M686 831.5h1M722 831.5h1M823 831.5h2M829 831.5h6M1189 831.5h5M1292 831.5h1M1383 831.5h2M12 836.5h1M51 836.5h1M345 836.5h1M522 836.5h2M577 836.5h1M604 836.5h2M648 836.5h3M707 836.5h2M715 836.5h2M856 836.5h1M859 836.5h2M902 836.5h2M906 836.5h1M1202 836.5h2M1277 836.5h2M1285 836.5h2M1350 836.5h2M1373 836.5h5M31 845.5h2M37 845.5h5M131 845.5h1M256 845.5h2M323 845.5h1M335 845.5h1M377 845.5h1M849 845.5h1M870 845.5h1M883 845.5h2M914 845.5h2M1021 845.5h2M1027 845.5h1M1055 845.5h1M1063 845.5h3M1079 845.5h1M1084 845.5h1M1359 845.5h1M101 852.5h1M295 852.5h2M384 852.5h1M386 852.5h1M950 852.5h1M965 852.5h6M987 852.5h1M999 852.5h1M1015 852.5h1M1035 852.5h2M1072 852.5h1M1096 852.5h3M1109 852.5h2M1131 852.5h1M1255 852.5h1M13 837.5h1M50 837.5h1M121 837.5h1M344 837.5h1M346 837.5h1M521 837.5h1M575 837.5h2M606 837.5h2M629 837.5h1M651 837.5h2M669 837.5h5M709 837.5h3M714 837.5h1M843 837.5h1M861 837.5h3M900 837.5h2M907 837.5h1M1204 837.5h1M1279 837.5h1M1284 837.5h1M1352 837.5h2M151 862.5h6M206 862.5h1M213 862.5h1M219 862.5h1M1121 862.5h1M1226 862.5h1M8 832.5h1M54 832.5h1M71 832.5h1M531 832.5h2M582 832.5h1M589 832.5h3M635 832.5h4M687 832.5h1M695 832.5h4M721 832.5h1M825 832.5h4M835 832.5h2M1176 832.5h13M1194 832.5h2M1266 832.5h8M1291 832.5h1M1310 832.5h1M1382 832.5h1M98 854.5h1M229 854.5h8M398 854.5h1M953 854.5h4M989 854.5h2M996 854.5h1M1004 854.5h1M1113 854.5h1M1133 854.5h1M1157 854.5h2M1232 854.5h1M1234 854.5h2M99 853.5h2M225 853.5h4M297 853.5h9M385 853.5h1M951 853.5h2M957 853.5h8M988 853.5h1M997 853.5h2M1014 853.5h1M1033 853.5h2M1073 853.5h1M1111 853.5h2M1127 853.5h1M1132 853.5h1M1159 853.5h2M1233 853.5h1M1254 853.5h1M81 823.5h8M493 823.5h8M814 823.5h1M1 826.5h1M64 826.5h2M79 826.5h1M511 826.5h3M681 826.5h1M728 826.5h1M739 826.5h2M757 826.5h2M817 826.5h1M1297 826.5h9M15 839.5h1M48 839.5h1M123 839.5h2M315 839.5h2M341 839.5h2M349 839.5h1M358 839.5h2M363 839.5h4M572 839.5h1M613 839.5h5M656 839.5h5M854 839.5h1M895 839.5h3M1207 839.5h2M1281 839.5h1M774 818.5h1M797 818.5h3M805 818.5h5M105 849.5h9M136 849.5h1M263 849.5h2M267 849.5h4M275 849.5h4M283 849.5h2M291 849.5h2M327 849.5h1M331 849.5h1M381 849.5h1M390 849.5h1M873 849.5h2M921 849.5h4M931 849.5h2M941 849.5h3M946 849.5h1M976 849.5h5M1017 849.5h1M1030 849.5h1M1051 849.5h1M1069 849.5h1M1076 849.5h1M1089 849.5h2M1104 849.5h2M133 847.5h2M260 847.5h1M288 847.5h2M325 847.5h1M333 847.5h1M379 847.5h1M393 847.5h1M879 847.5h3M917 847.5h2M1019 847.5h1M1053 847.5h1M1067 847.5h1M1087 847.5h1M5 830.5h2M56 830.5h1M69 830.5h1M76 830.5h1M516 830.5h1M536 830.5h5M547 830.5h2M585 830.5h2M678 830.5h1M685 830.5h1M723 830.5h1M745 830.5h4M822 830.5h1M1293 830.5h1M1385 830.5h1M28 843.5h1M43 843.5h1M117 843.5h1M129 843.5h1M252 843.5h2M321 843.5h1M337 843.5h1M373 843.5h2M624 843.5h2M886 843.5h1M912 843.5h1M1024 843.5h1M1057 843.5h2M1082 843.5h1M1364 843.5h1M3 828.5h1M59 828.5h2M67 828.5h1M552 828.5h2M683 828.5h1M725 828.5h2M742 828.5h1M754 828.5h2M819 828.5h2M1295 828.5h1M1307 828.5h1M490 824.5h3M501 824.5h6M733 824.5h5M761 824.5h1M815 824.5h1M777 822.5h10M813 822.5h1M202 866.5h1M467 866.5h2M29 844.5h2M42 844.5h1M130 844.5h1M254 844.5h2M322 844.5h1M336 844.5h1M375 844.5h2M850 844.5h1M885 844.5h1M913 844.5h1M1023 844.5h1M1056 844.5h1M1059 844.5h4M1083 844.5h1M1358 844.5h1M145 864.5h2M172 864.5h1M204 864.5h1M215 864.5h2M459 864.5h4M14 838.5h1M49 838.5h1M122 838.5h1M314 838.5h1M343 838.5h1M347 838.5h2M360 838.5h3M573 838.5h2M608 838.5h5M653 838.5h3M661 838.5h8M712 838.5h2M844 838.5h1M864 838.5h2M898 838.5h2M908 838.5h1M1205 838.5h2M1280 838.5h1M1282 838.5h2M11 835.5h1M52 835.5h1M524 835.5h2M557 835.5h1M578 835.5h1M602 835.5h2M645 835.5h3M704 835.5h3M717 835.5h1M857 835.5h2M904 835.5h2M1170 835.5h1M1200 835.5h2M1276 835.5h1M1287 835.5h2M1313 835.5h4M1325 835.5h6M1348 835.5h2M1369 835.5h4M1378 835.5h1M147 863.5h4M205 863.5h1M214 863.5h1M458 863.5h1M787 821.5h4M812 821.5h1M181 870.5h3M186 870.5h2M197 870.5h1M429 870.5h2M435 870.5h1M4 829.5h1M57 829.5h2M68 829.5h1M515 829.5h1M549 829.5h3M679 829.5h1M684 829.5h1M724 829.5h1M743 829.5h2M749 829.5h5M821 829.5h1M1294 829.5h1M1308 829.5h1M141 857.5h1M405 857.5h8M993 857.5h1M1011 857.5h1M1116 857.5h1M1136 857.5h1M1149 857.5h5M1230 857.5h1M1239 857.5h2M1251 857.5h1M179 871.5h2M188 871.5h2M195 871.5h2M428 871.5h1M436 871.5h1M199 868.5h2M432 868.5h1M472 868.5h9M163 860.5h4M208 860.5h1M210 860.5h1M1009 860.5h1M1119 860.5h1M203 865.5h1M217 865.5h1M463 865.5h4M174 867.5h1M201 867.5h1M433 867.5h1M469 867.5h3M800 817.5h5M223 856.5h1M992 856.5h1M994 856.5h1M1006 856.5h1M1012 856.5h1M1115 856.5h1M1125 856.5h1M1135 856.5h1M1154 856.5h2M1237 856.5h2M1252 856.5h1M791 820.5h4M811 820.5h1M192 873.5h2M426 873.5h1M184 869.5h2M198 869.5h1M431 869.5h1M771 814.5h1M237 855.5h5M399 855.5h1M991 855.5h1M995 855.5h1M1005 855.5h1M1114 855.5h1M1134 855.5h1M1156 855.5h1M1236 855.5h1M769 811.5h1M438 874.5h1M439 875.5h1M447 883.5h1M442 879.5h1M443 880.5h1M766 816.5h1M445 882.5h2M772 815.5h1M441 878.5h1M448 884.5h1M444 881.5h1" fill="none" stroke="#1e90ff" stroke-width="1"/>
<rect x="-7" y="928" width="1" height="3" fill="#000"/>
<text x="-7.3" y="939.8" font-family="Liberation Sans, sans-serif" font-size="9.7" fill="#000" stroke="#000" stroke-width="0.18" text-anchor="start" textLength="53.59" lengthAdjust="spacingAndGlyphs" shape-rendering="auto" xml:space="preserve">24 Nov 2021</text>
<rect x="57" y="928" width="1" height="3" fill="#000"/>
<text x="56.7" y="939.8" font-family="Liberation Sans, sans-serif" font-size="9.7" fill="#000" stroke="#000" stroke-width="0.18" text-anchor="start" textLength="56.22" lengthAdjust="spacingAndGlyphs" shape-rendering="auto" xml:space="preserve">26 Nov 00:00</text>
<rect x="121" y="928" width="1" height="3" fill="#000"/>
<text x="120.7" y="939.8" font-family="Liberation Sans, sans-serif" font-size="9.7" fill="#000" stroke="#000" stroke-width="0.18" text-anchor="start" textLength="56.22" lengthAdjust="spacingAndGlyphs" shape-rendering="auto" xml:space="preserve">29 Nov 12:00</text>
<rect x="185" y="928" width="1" height="3" fill="#000"/>
<text x="184.7" y="939.8" font-family="Liberation Sans, sans-serif" font-size="9.7" fill="#000" stroke="#000" stroke-width="0.18" text-anchor="start" textLength="56.22" lengthAdjust="spacingAndGlyphs" shape-rendering="auto" xml:space="preserve">30 Nov 20:00</text>
<rect x="249" y="928" width="1" height="3" fill="#000"/>
<text x="248.7" y="939.8" font-family="Liberation Sans, sans-serif" font-size="9.7" fill="#000" stroke="#000" stroke-width="0.18" text-anchor="start" textLength="49.72" lengthAdjust="spacingAndGlyphs" shape-rendering="auto" xml:space="preserve">2 Dec 04:00</text>
<rect x="313" y="928" width="1" height="3" fill="#000"/>
<text x="312.7" y="939.8" font-family="Liberation Sans, sans-serif" font-size="9.7" fill="#000" stroke="#000" stroke-width="0.18" text-anchor="start" textLength="49.72" lengthAdjust="spacingAndGlyphs" shape-rendering="auto" xml:space="preserve">3 Dec 12:00</text>
<rect x="377" y="928" width="1" height="3" fill="#000"/>
<text x="376.7" y="939.8" font-family="Liberation Sans, sans-serif" font-size="9.7" fill="#000" stroke="#000" stroke-width="0.18" text-anchor="start" textLength="49.72" lengthAdjust="spacingAndGlyphs" shape-rendering="auto" xml:space="preserve">7 Dec 00:00</text>
<rect x="441" y="928" width="1" height="3" fill="#000"/>
<text x="440.7" y="939.8" font-family="Liberation Sans, sans-serif" font-size="9.7" fill="#000" stroke="#000" stroke-width="0.18" text-anchor="start" textLength="49.72" lengthAdjust="spacingAndGlyphs" shape-rendering="auto" xml:space="preserve">8 Dec 08:00</text>
<rect x="505" y="928" width="1" height="3" fill="#000"/>
<text x="504.7" y="939.8" font-family="Liberation Sans, sans-serif" font-size="9.7" fill="#000" stroke="#000" stroke-width="0.18" text-anchor="start" textLength="49.72" lengthAdjust="spacingAndGlyphs" shape-rendering="auto" xml:space="preserve">9 Dec 16:00</text>
<rect x="569" y="928" width="1" height="3" fill="#000"/>
<text x="568.7" y="939.8" font-family="Liberation Sans, sans-serif" font-size="9.7" fill="#000" stroke="#000" stroke-width="0.18" text-anchor="start" textLength="54.85" lengthAdjust="spacingAndGlyphs" shape-rendering="auto" xml:space="preserve">13 Dec 04:00</text>
<rect x="633" y="928" width="1" height="3" fill="#000"/>
<text x="632.7" y="939.8" font-family="Liberation Sans, sans-serif" font-size="9.7" fill="#000" stroke="#000" stroke-width="0.18" text-anchor="start" textLength="54.85" lengthAdjust="spacingAndGlyphs" shape-rendering="auto" xml:space="preserve">14 Dec 12:00</text>
<rect x="697" y="928" width="1" height="3" fill="#000"/>
<text x="696.7" y="939.8" font-family="Liberation Sans, sans-serif" font-size="9.7" fill="#000" stroke="#000" stroke-width="0.18" text-anchor="start" textLength="54.85" lengthAdjust="spacingAndGlyphs" shape-rendering="auto" xml:space="preserve">15 Dec 20:00</text>
<rect x="761" y="928" width="1" height="3" fill="#000"/>
<text x="760.7" y="939.8" font-family="Liberation Sans, sans-serif" font-size="9.7" fill="#000" stroke="#000" stroke-width="0.18" text-anchor="start" textLength="54.85" lengthAdjust="spacingAndGlyphs" shape-rendering="auto" xml:space="preserve">17 Dec 04:00</text>
<rect x="825" y="928" width="1" height="3" fill="#000"/>
<text x="824.7" y="939.8" font-family="Liberation Sans, sans-serif" font-size="9.7" fill="#000" stroke="#000" stroke-width="0.18" text-anchor="start" textLength="54.85" lengthAdjust="spacingAndGlyphs" shape-rendering="auto" xml:space="preserve">20 Dec 16:00</text>
<rect x="889" y="928" width="1" height="3" fill="#000"/>
<text x="888.7" y="939.8" font-family="Liberation Sans, sans-serif" font-size="9.7" fill="#000" stroke="#000" stroke-width="0.18" text-anchor="start" textLength="54.85" lengthAdjust="spacingAndGlyphs" shape-rendering="auto" xml:space="preserve">22 Dec 00:00</text>
<rect x="953" y="928" width="1" height="3" fill="#000"/>
<text x="952.7" y="939.8" font-family="Liberation Sans, sans-serif" font-size="9.7" fill="#000" stroke="#000" stroke-width="0.18" text-anchor="start" textLength="54.85" lengthAdjust="spacingAndGlyphs" shape-rendering="auto" xml:space="preserve">23 Dec 08:00</text>
<rect x="1017" y="928" width="1" height="3" fill="#000"/>
<text x="1016.7" y="939.8" font-family="Liberation Sans, sans-serif" font-size="9.7" fill="#000" stroke="#000" stroke-width="0.18" text-anchor="start" textLength="54.85" lengthAdjust="spacingAndGlyphs" shape-rendering="auto" xml:space="preserve">27 Dec 04:00</text>
<rect x="1081" y="928" width="1" height="3" fill="#000"/>
<text x="1080.7" y="939.8" font-family="Liberation Sans, sans-serif" font-size="9.7" fill="#000" stroke="#000" stroke-width="0.18" text-anchor="start" textLength="54.85" lengthAdjust="spacingAndGlyphs" shape-rendering="auto" xml:space="preserve">28 Dec 12:00</text>
<rect x="1145" y="928" width="1" height="3" fill="#000"/>
<text x="1144.7" y="939.8" font-family="Liberation Sans, sans-serif" font-size="9.7" fill="#000" stroke="#000" stroke-width="0.18" text-anchor="start" textLength="54.85" lengthAdjust="spacingAndGlyphs" shape-rendering="auto" xml:space="preserve">29 Dec 20:00</text>
<rect x="1209" y="928" width="1" height="3" fill="#000"/>
<text x="1208.7" y="939.8" font-family="Liberation Sans, sans-serif" font-size="9.7" fill="#000" stroke="#000" stroke-width="0.18" text-anchor="start" textLength="54.85" lengthAdjust="spacingAndGlyphs" shape-rendering="auto" xml:space="preserve">31 Dec 04:00</text>
<rect x="1273" y="928" width="1" height="3" fill="#000"/>
<text x="1272.7" y="939.8" font-family="Liberation Sans, sans-serif" font-size="9.7" fill="#000" stroke="#000" stroke-width="0.18" text-anchor="start" textLength="47.98" lengthAdjust="spacingAndGlyphs" shape-rendering="auto" xml:space="preserve">3 Jan 16:00</text>
<rect x="1337" y="928" width="1" height="3" fill="#000"/>
<text x="1336.7" y="939.8" font-family="Liberation Sans, sans-serif" font-size="9.7" fill="#000" stroke="#000" stroke-width="0.18" text-anchor="start" textLength="47.98" lengthAdjust="spacingAndGlyphs" shape-rendering="auto" xml:space="preserve">5 Jan 00:00</text>
<g shape-rendering="auto">
<rect x="1310" y="192" width="142" height="6" fill="#00ff00"/>
<line x1="1197.5" y1="231.5" x2="1210.3" y2="510.8" stroke="#ff0000" stroke-width="3.0" stroke-linecap="butt"/><polygon points="1210.6,516.8 1204.7,507.1 1210.2,508.3 1215.5,506.6" fill="#ff0000"/>
<line x1="1212.4" y1="513.0" x2="1306.3" y2="203.2" stroke="#ff0000" stroke-width="3.0" stroke-linecap="butt"/><polygon points="1308.0,197.5 1310.3,208.6 1305.5,205.6 1299.9,205.5" fill="#ff0000"/>
<line x1="1308.0" y1="197.5" x2="1363.2" y2="303.7" stroke="#ff0000" stroke-width="3.0" stroke-linecap="butt"/><polygon points="1366.0,309.0 1356.6,302.6 1362.1,301.5 1366.2,297.6" fill="#ff0000"/>
<line x1="1366.0" y1="309.0" x2="1401.0" y2="208.7" stroke="#ff0000" stroke-width="3.0" stroke-linecap="butt"/><polygon points="1403.0,203.0 1404.8,214.2 1400.2,211.0 1394.6,210.7" fill="#ff0000"/>
<line x1="1403.0" y1="203.0" x2="1422.9" y2="224.6" stroke="#ff0000" stroke-width="3.0" stroke-linecap="butt"/><polygon points="1427.0,229.0 1416.2,225.3 1421.2,222.8 1424.2,218.0" fill="#ff0000"/>
<line x1="1298.5" y1="632.3" x2="1393.8" y2="628.9" stroke="#ff0000" stroke-width="3.0" stroke-linecap="butt"/><polygon points="1401.0,628.6 1389.2,634.0 1390.8,629.0 1388.8,624.0" fill="#ff0000"/>
<line x1="1292.5" y1="830.6" x2="1379.8" y2="835.1" stroke="#ff0000" stroke-width="3.0" stroke-linecap="butt"/><polygon points="1387.0,835.5 1374.8,839.9 1376.8,835.0 1375.3,829.9" fill="#ff0000"/>
</g>
<rect x="1194" y="194" width="10" height="1" fill="#ff0000"/>
<rect x="1201.5" y="192.5" width="4" height="4" fill="#fff" stroke="#ff0000" stroke-width="1"/>
<rect x="1204.5" y="182.5" width="73" height="24" fill="#fff" stroke="#ff0000" stroke-width="1"/>
<text x="1205.5" y="203" font-family="Liberation Sans, sans-serif" font-size="22.7" fill="#ff0000" stroke="#ff0000" stroke-width="0.35" shape-rendering="auto" textLength="70.4" lengthAdjust="spacingAndGlyphs">6.37983</text>
<rect x="1207" y="512" width="10" height="1" fill="#ff0000"/>
<rect x="1146.5" y="503.5" width="61" height="18" fill="#fff" stroke="#ff0000" stroke-width="1"/>
<text x="1148.2" y="519" font-family="Liberation Sans, sans-serif" font-size="17.2" fill="#ff0000" stroke="#ff0000" stroke-width="0.2" shape-rendering="auto" textLength="57.4" lengthAdjust="spacingAndGlyphs">6.33685</text>
<text x="-2.2" y="594.2" font-family="Liberation Sans, sans-serif" font-size="9.7" fill="#000" stroke="#000" stroke-width="0.18" text-anchor="start" textLength="147.36" lengthAdjust="spacingAndGlyphs" shape-rendering="auto" xml:space="preserve">MACD(12,26,9) 0.001051 0.000936</text>
<text x="-2.6" y="766.2" font-family="Liberation Sans, sans-serif" font-size="9.7" fill="#000" stroke="#000" stroke-width="0.18" text-anchor="start" textLength="68.24" lengthAdjust="spacingAndGlyphs" shape-rendering="auto" xml:space="preserve">RSI(14) 56.4054</text>
<text x="8.1" y="38" font-family="Liberation Sans, sans-serif" font-size="9.7" fill="#000" stroke="#000" stroke-width="0.18" text-anchor="start" textLength="205.60" lengthAdjust="spacingAndGlyphs" shape-rendering="auto" xml:space="preserve">USDCNH-,H4  6.37291 6.37632 6.37246 6.37631</text>
<polygon points="0,34 3.5,37.5 0,37.5" fill="#000" shape-rendering="auto"/>
<defs><linearGradient id="gb1" x1="0" y1="0" x2="0" y2="1"><stop offset="0" stop-color="#5454fa"/><stop offset="1" stop-color="#3a3ae2"/></linearGradient><linearGradient id="gb2" x1="0" y1="0" x2="0" y2="1"><stop offset="0" stop-color="#3a3ae0"/><stop offset="0.5" stop-color="#2020c6"/><stop offset="1" stop-color="#0000a4"/></linearGradient><linearGradient id="gb2u" gradientUnits="userSpaceOnUse" x1="0" y1="70" x2="0" y2="103"><stop offset="0" stop-color="#3a3ae0"/><stop offset="0.5" stop-color="#2020c6"/><stop offset="1" stop-color="#0000a4"/></linearGradient><linearGradient id="gbt" x1="0" y1="0" x2="0" y2="1"><stop offset="0" stop-color="#f4f4f4"/><stop offset="0.45" stop-color="#ececec"/><stop offset="0.55" stop-color="#dcdcdc"/><stop offset="1" stop-color="#d0d0d0"/></linearGradient></defs>
<rect x="0" y="46" width="216" height="59" fill="#fff"/>
<rect x="0" y="46" width="48" height="25" fill="url(#gb1)"/>
<rect x="163" y="46" width="52" height="25" fill="url(#gb1)"/>
<rect x="0" y="70" width="105" height="33" fill="url(#gb2)"/>
<rect x="107" y="70" width="108" height="33" fill="url(#gb2)"/>
<rect x="0" y="69" width="44" height="1" fill="#1c1cb4"/>
<rect x="0" y="70" width="44" height="1" fill="#7474f2"/>
<rect x="167" y="69" width="44" height="1" fill="#1c1cb4"/>
<rect x="167" y="70" width="44" height="1" fill="#7474f2"/>
<rect x="0" y="46" width="48" height="1" fill="#2a2ac8"/>
<rect x="163" y="46" width="52" height="1" fill="#2a2ac8"/>
<rect x="47" y="46" width="1" height="24" fill="#2a2ac8"/>
<rect x="163" y="46" width="1" height="24" fill="#2a2ac8"/>
<rect x="214" y="46" width="1" height="57" fill="#1a1ab8"/>
<rect x="49" y="46" width="114" height="23" fill="#f2f2f2"/>
<rect x="50.5" y="47.5" width="110" height="20" fill="#fff" stroke="#b4b4b4" stroke-width="1"/>
<rect x="50.5" y="47.5" width="21" height="20" fill="url(#gbt)" stroke="#b4b4b4" stroke-width="1"/>
<rect x="139.5" y="47.5" width="21" height="20" fill="url(#gbt)" stroke="#b4b4b4" stroke-width="1"/>
<polygon points="58,56 63.4,56 60.7,58.8" fill="#4a5ccc" shape-rendering="auto"/>
<polygon points="147,58 152.4,58 149.7,55.2" fill="#4a5ccc" shape-rendering="auto"/>
<text x="8.4" y="62.2" font-family="Liberation Sans, sans-serif" font-size="12.4" fill="#fff" stroke="#fff" stroke-width="0.1" text-anchor="start" textLength="25.30" lengthAdjust="spacingAndGlyphs" shape-rendering="auto" xml:space="preserve">SELL</text>
<text x="176.8" y="62.2" font-family="Liberation Sans, sans-serif" font-size="12.4" fill="#fff" stroke="#fff" stroke-width="0.1" text-anchor="start" textLength="23.00" lengthAdjust="spacingAndGlyphs" shape-rendering="auto" xml:space="preserve">BUY</text>
<text x="112.6" y="61" font-family="Liberation Sans, sans-serif" font-size="12.4" fill="#000" stroke="#000" stroke-width="0.1" text-anchor="start" textLength="22.80" lengthAdjust="spacingAndGlyphs" shape-rendering="auto" xml:space="preserve">1.00</text>
<text x="16.5" y="98" font-family="Liberation Sans, sans-serif" font-size="11.3" font-weight="bold" fill="#fff" text-anchor="start" textLength="23.20" lengthAdjust="spacingAndGlyphs" shape-rendering="auto" xml:space="preserve">6.37</text>
<text stroke="url(#gb2u)" stroke-width="0.9" x="44.0" y="98" font-family="Liberation Sans, sans-serif" font-size="34.2" fill="#fff" text-anchor="start" textLength="33.20" lengthAdjust="spacingAndGlyphs" shape-rendering="auto" xml:space="preserve">63</text>
<text x="83.2" y="81.5" font-family="Liberation Sans, sans-serif" font-size="10.2" font-weight="bold" fill="#fff" text-anchor="start" textLength="6.20" lengthAdjust="spacingAndGlyphs" shape-rendering="auto" xml:space="preserve">1</text>
<text x="126.3" y="98" font-family="Liberation Sans, sans-serif" font-size="11.3" font-weight="bold" fill="#fff" text-anchor="start" textLength="23.20" lengthAdjust="spacingAndGlyphs" shape-rendering="auto" xml:space="preserve">6.37</text>
<text stroke="url(#gb2u)" stroke-width="0.9" x="155.0" y="98" font-family="Liberation Sans, sans-serif" font-size="34.2" fill="#fff" text-anchor="start" textLength="33.20" lengthAdjust="spacingAndGlyphs" shape-rendering="auto" xml:space="preserve">85</text>
<text x="194.2" y="81.5" font-family="Liberation Sans, sans-serif" font-size="10.2" font-weight="bold" fill="#fff" text-anchor="start" textLength="6.20" lengthAdjust="spacingAndGlyphs" shape-rendering="auto" xml:space="preserve">1</text>
</svg>
</body></html>
